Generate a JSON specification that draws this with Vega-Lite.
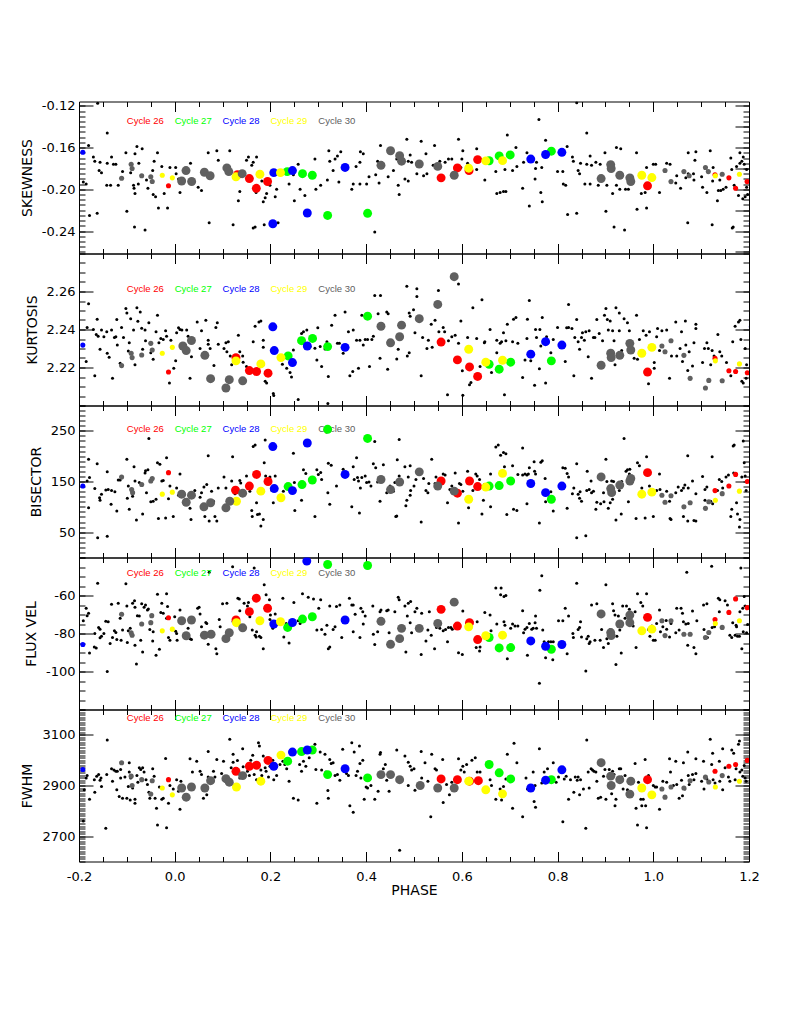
{
"$schema":"https://vega.github.io/schema/vega-lite/v6.json",
"background":"white",
"padding":{"left":19,"top":98.5,"right":5,"bottom":5},
"spacing":0,
"bounds":"flush",
"config":{"view":{"stroke":"black","strokeWidth":1},"axis":{"domain":false,"grid":false,"tickColor":"black","tickWidth":1,"labelFont":"DejaVu Sans","labelFontSize":13,"labelColor":"black","titleFont":"DejaVu Sans","titleFontSize":14,"titleFontWeight":"normal","titleColor":"black","labelFlush":false}},
"datasets":{
"legend":[
{"label":"Cycle 26","cycle":26,"phase":-0.1,"skew":-0.1343,"kurt":2.2614,"bis":254.6,"flux":-48.1,"fwhm":3165},
{"label":"Cycle 27","cycle":27,"phase":0.0,"skew":-0.1343,"kurt":2.2614,"bis":254.6,"flux":-48.1,"fwhm":3165},
{"label":"Cycle 28","cycle":28,"phase":0.1,"skew":-0.1343,"kurt":2.2614,"bis":254.6,"flux":-48.1,"fwhm":3165},
{"label":"Cycle 29","cycle":29,"phase":0.2,"skew":-0.1343,"kurt":2.2614,"bis":254.6,"flux":-48.1,"fwhm":3165},
{"label":"Cycle 30","cycle":30,"phase":0.3,"skew":-0.1343,"kurt":2.2614,"bis":254.6,"flux":-48.1,"fwhm":3165}
],
"skew_bg":[
{"phase":-0.161,"value":-0.1175},{"phase":-0.141,"value":-0.146},{"phase":-0.18,"value":-0.158},{"phase":-0.17,"value":-0.169},{"phase":-0.167,"value":-0.173},{"phase":-0.156,"value":-0.174},{"phase":-0.158,"value":-0.182},{"phase":-0.153,"value":-0.184},{"phase":-0.191,"value":-0.193},{"phase":-0.185,"value":-0.195},{"phase":-0.178,"value":-0.225},{"phase":-0.162,"value":-0.223},{"phase":-0.141,"value":-0.175},{"phase":-0.132,"value":-0.169},{"phase":-0.128,"value":-0.176},{"phase":-0.123,"value":-0.176},{"phase":-0.142,"value":-0.196},{"phase":-0.134,"value":-0.196},{"phase":-0.118,"value":-0.196},{"phase":-0.109,"value":-0.183},{"phase":-0.102,"value":-0.165},{"phase":-0.1,"value":-0.221},{"phase":-0.092,"value":-0.184},{"phase":-0.086,"value":-0.196},{"phase":-0.085,"value":-0.199},{"phase":-0.083,"value":-0.166},{"phase":-0.079,"value":-0.159},{"phase":-0.075,"value":-0.175},{"phase":-0.068,"value":-0.161},{"phase":-0.083,"value":-0.204},{"phase":-0.084,"value":-0.236},{"phase":-0.062,"value":-0.239},{"phase":-0.076,"value":-0.195},{"phase":-0.059,"value":-0.191},{"phase":-0.056,"value":-0.199},{"phase":-0.046,"value":-0.182},{"phase":-0.043,"value":-0.173},{"phase":-0.036,"value":-0.165},{"phase":-0.034,"value":-0.218},{"phase":-0.045,"value":-0.205},{"phase":-0.04,"value":-0.207},{"phase":-0.027,"value":-0.178},{"phase":-0.022,"value":-0.204},{"phase":-0.015,"value":-0.218},{"phase":-0.01,"value":-0.179},{"phase":0.002,"value":-0.179},{"phase":0.003,"value":-0.185},{"phase":0.008,"value":-0.19},{"phase":0.011,"value":-0.203},{"phase":0.033,"value":-0.175},{"phase":0.049,"value":-0.198},{"phase":0.056,"value":-0.201},{"phase":0.07,"value":-0.165},{"phase":0.072,"value":-0.232},{"phase":0.088,"value":-0.163},{"phase":0.091,"value":-0.172},{"phase":0.115,"value":-0.163},{"phase":0.122,"value":-0.234},{"phase":0.133,"value":-0.211},{"phase":0.136,"value":-0.202},{"phase":0.15,"value":-0.172},{"phase":0.154,"value":-0.169},{"phase":0.161,"value":-0.177},{"phase":0.164,"value":-0.174},{"phase":0.17,"value":-0.203},{"phase":0.171,"value":-0.169},{"phase":0.168,"value":-0.236},{"phase":0.164,"value":-0.237},{"phase":0.182,"value":-0.192},{"phase":0.185,"value":-0.212},{"phase":0.189,"value":-0.208},{"phase":0.192,"value":-0.204},{"phase":0.199,"value":-0.196},{"phase":0.21,"value":-0.207},{"phase":0.213,"value":-0.2},{"phase":0.216,"value":-0.232},{"phase":0.187,"value":-0.234},{"phase":0.248,"value":-0.186},{"phase":0.239,"value":-0.195},{"phase":0.25,"value":-0.211},{"phase":0.258,"value":-0.176},{"phase":0.262,"value":-0.2},{"phase":0.272,"value":-0.206},{"phase":0.293,"value":-0.171},{"phase":0.295,"value":-0.2},{"phase":0.305,"value":-0.196},{"phase":0.322,"value":-0.163},{"phase":0.324,"value":-0.173},{"phase":0.319,"value":-0.191},{"phase":0.331,"value":-0.182},{"phase":0.335,"value":-0.171},{"phase":0.34,"value":-0.168},{"phase":0.343,"value":-0.193},{"phase":0.347,"value":-0.164},{"phase":0.373,"value":-0.195},{"phase":0.37,"value":-0.2},{"phase":0.379,"value":-0.178},{"phase":0.387,"value":-0.195},{"phase":0.387,"value":-0.174},{"phase":0.388,"value":-0.164},{"phase":0.394,"value":-0.166},{"phase":0.401,"value":-0.195},{"phase":0.406,"value":-0.188},{"phase":0.418,"value":-0.241},{"phase":0.42,"value":-0.186},{"phase":0.424,"value":-0.173},{"phase":0.427,"value":-0.194},{"phase":0.43,"value":-0.158},{"phase":0.436,"value":-0.176},{"phase":0.446,"value":-0.188},{"phase":0.457,"value":-0.182},
{"phase":0.84,"value":-0.117},{"phase":0.761,"value":-0.133},{"phase":0.861,"value":-0.146},{"phase":0.695,"value":-0.148},{"phase":0.775,"value":-0.153},{"phase":0.485,"value":-0.152},{"phase":0.515,"value":-0.154},{"phase":0.543,"value":-0.158},{"phase":0.593,"value":-0.152},{"phase":0.602,"value":-0.163},{"phase":0.631,"value":-0.161},{"phase":0.713,"value":-0.16},{"phase":0.82,"value":-0.159},{"phase":0.923,"value":-0.16},{"phase":0.932,"value":-0.161},{"phase":0.965,"value":-0.165},{"phase":1.073,"value":-0.165},{"phase":1.089,"value":-0.164},{"phase":1.119,"value":-0.163},{"phase":1.181,"value":-0.165},{"phase":1.188,"value":-0.169},{"phase":0.525,"value":-0.166},{"phase":0.492,"value":-0.167},{"phase":0.464,"value":-0.171},{"phase":0.488,"value":-0.173},{"phase":0.495,"value":-0.174},{"phase":0.554,"value":-0.173},{"phase":0.565,"value":-0.174},{"phase":0.572,"value":-0.171},{"phase":0.579,"value":-0.171},{"phase":0.54,"value":-0.177},{"phase":0.527,"value":-0.185},{"phase":0.52,"value":-0.187},{"phase":0.506,"value":-0.185},{"phase":0.481,"value":-0.19},{"phase":0.488,"value":-0.192},{"phase":0.467,"value":-0.196},{"phase":0.469,"value":-0.205},{"phase":0.6,"value":-0.171},{"phase":0.598,"value":-0.179},{"phase":0.612,"value":-0.175},{"phase":0.631,"value":-0.181},{"phase":0.648,"value":-0.191},{"phase":0.671,"value":-0.183},{"phase":0.673,"value":-0.204},{"phase":0.68,"value":-0.203},{"phase":0.687,"value":-0.202},{"phase":0.692,"value":-0.202},{"phase":0.69,"value":-0.181},{"phase":0.706,"value":-0.182},{"phase":0.715,"value":-0.178},{"phase":0.729,"value":-0.174},{"phase":0.736,"value":-0.165},{"phase":0.741,"value":-0.216},{"phase":0.756,"value":-0.174},{"phase":0.754,"value":-0.18},{"phase":0.767,"value":-0.179},{"phase":0.753,"value":-0.19},{"phase":0.765,"value":-0.203},{"phase":0.768,"value":-0.212},{"phase":0.727,"value":-0.199},{"phase":0.8,"value":-0.183},{"phase":0.811,"value":-0.183},{"phase":0.812,"value":-0.195},{"phase":0.817,"value":-0.196},{"phase":0.821,"value":-0.224},{"phase":0.84,"value":-0.223},{"phase":0.831,"value":-0.169},{"phase":0.833,"value":-0.173},{"phase":0.843,"value":-0.182},{"phase":0.846,"value":-0.185},{"phase":0.848,"value":-0.175},{"phase":0.861,"value":-0.176},{"phase":0.868,"value":-0.168},{"phase":0.871,"value":-0.177},{"phase":0.88,"value":-0.174},{"phase":0.889,"value":-0.176},{"phase":0.857,"value":-0.195},{"phase":0.868,"value":-0.195},{"phase":0.885,"value":-0.196},{"phase":0.901,"value":-0.221},{"phase":0.899,"value":-0.165},{"phase":0.903,"value":-0.196},{"phase":0.915,"value":-0.204},{"phase":0.918,"value":-0.236},{"phase":0.923,"value":-0.196},{"phase":0.93,"value":-0.2},{"phase":0.94,"value":-0.239},{"phase":0.942,"value":-0.2},{"phase":0.948,"value":-0.2},{"phase":0.966,"value":-0.219},{"phase":0.975,"value":-0.204},{"phase":0.983,"value":-0.203},{"phase":0.986,"value":-0.218},{"phase":0.986,"value":-0.179},{"phase":1.0,"value":-0.176},{"phase":1.005,"value":-0.176},{"phase":1.013,"value":-0.203},{"phase":1.028,"value":-0.175},{"phase":1.035,"value":-0.176},{"phase":1.047,"value":-0.194},{"phase":1.049,"value":-0.187},{"phase":1.057,"value":-0.199},{"phase":1.063,"value":-0.183},{"phase":1.068,"value":-0.189},{"phase":1.072,"value":-0.232},{"phase":1.073,"value":-0.185},{"phase":1.084,"value":-0.185},{"phase":1.085,"value":-0.191},{"phase":1.087,"value":-0.172},{"phase":1.101,"value":-0.188},{"phase":1.103,"value":-0.198},{"phase":1.112,"value":-0.203},{"phase":1.123,"value":-0.234},{"phase":1.124,"value":-0.192},{"phase":1.125,"value":-0.179},{"phase":1.134,"value":-0.211},{"phase":1.136,"value":-0.201},{"phase":1.139,"value":-0.191},{"phase":1.141,"value":-0.201},{"phase":1.146,"value":-0.2},{"phase":1.152,"value":-0.198},{"phase":1.162,"value":-0.17},{"phase":1.164,"value":-0.181},{"phase":1.167,"value":-0.236},{"phase":1.165,"value":-0.237},{"phase":1.169,"value":-0.196},{"phase":1.174,"value":-0.178},{"phase":1.178,"value":-0.206},{"phase":1.181,"value":-0.175},{"phase":1.185,"value":-0.173},{"phase":1.187,"value":-0.209},{"phase":1.192,"value":-0.207},{"phase":1.195,"value":-0.181},{"phase":1.195,"value":-0.198},{"phase":1.19,"value":-0.176},{"phase":1.197,"value":-0.205}
],
"skew_cyc":[
{"phase":0.131,"value":-0.186,"cycle":26,"copy":"main"},{"phase":0.156,"value":-0.1897,"cycle":26,"copy":"main"},{"phase":0.1705,"value":-0.199,"cycle":26,"copy":"main"},{"phase":0.194,"value":-0.1925,"cycle":26,"copy":"main"},{"phase":0.5566,"value":-0.189,"cycle":26,"copy":"main"},{"phase":0.5907,"value":-0.1795,"cycle":26,"copy":"main"},{"phase":0.615,"value":-0.182,"cycle":26,"copy":"main"},{"phase":0.633,"value":-0.1715,"cycle":26,"copy":"main"},{"phase":0.988,"value":-0.1966,"cycle":26,"copy":"main"},
{"phase":-0.013,"value":-0.1966,"cycle":26,"copy":"wrap"},{"phase":1.129,"value":-0.186,"cycle":26,"copy":"wrap"},{"phase":1.158,"value":-0.189,"cycle":26,"copy":"wrap"},{"phase":1.172,"value":-0.199,"cycle":26,"copy":"wrap"},{"phase":1.196,"value":-0.1926,"cycle":26,"copy":"wrap"},
{"phase":0.235,"value":-0.183,"cycle":27,"copy":"main"},{"phase":0.267,"value":-0.185,"cycle":27,"copy":"main"},{"phase":0.2875,"value":-0.1865,"cycle":27,"copy":"main"},{"phase":0.3195,"value":-0.225,"cycle":27,"copy":"main"},{"phase":0.403,"value":-0.223,"cycle":27,"copy":"main"},{"phase":0.657,"value":-0.1726,"cycle":27,"copy":"main"},{"phase":0.678,"value":-0.168,"cycle":27,"copy":"main"},{"phase":0.701,"value":-0.167,"cycle":27,"copy":"main"},{"phase":0.787,"value":-0.1634,"cycle":27,"copy":"main"},
{"phase":0.205,"value":-0.233,"cycle":28,"copy":"main"},{"phase":0.207,"value":-0.184,"cycle":28,"copy":"main"},{"phase":0.246,"value":-0.182,"cycle":28,"copy":"main"},{"phase":0.277,"value":-0.2227,"cycle":28,"copy":"main"},{"phase":0.356,"value":-0.179,"cycle":28,"copy":"main"},{"phase":0.744,"value":-0.171,"cycle":28,"copy":"main"},{"phase":0.775,"value":-0.1666,"cycle":28,"copy":"main"},{"phase":0.809,"value":-0.1645,"cycle":28,"copy":"main"},
{"phase":-0.192,"value":-0.1645,"cycle":28,"copy":"wrap"},{"phase":1.205,"value":-0.233,"cycle":28,"copy":"wrap"},
{"phase":0.128,"value":-0.188,"cycle":29,"copy":"main"},{"phase":0.178,"value":-0.1855,"cycle":29,"copy":"main"},{"phase":0.221,"value":-0.184,"cycle":29,"copy":"main"},{"phase":0.6143,"value":-0.1797,"cycle":29,"copy":"main"},{"phase":0.65,"value":-0.1727,"cycle":29,"copy":"main"},{"phase":0.685,"value":-0.1725,"cycle":29,"copy":"main"},{"phase":0.976,"value":-0.1865,"cycle":29,"copy":"main"},{"phase":0.997,"value":-0.1887,"cycle":29,"copy":"main"},
{"phase":-0.026,"value":-0.1865,"cycle":29,"copy":"wrap"},{"phase":-0.005,"value":-0.189,"cycle":29,"copy":"wrap"},{"phase":1.1297,"value":-0.187,"cycle":29,"copy":"wrap"},{"phase":1.18,"value":-0.1856,"cycle":29,"copy":"wrap"},
{"phase":0.0145,"value":-0.192,"cycle":30,"copy":"main"},{"phase":0.0236,"value":-0.182,"cycle":30,"copy":"main"},{"phase":0.0354,"value":-0.1925,"cycle":30,"copy":"main"},{"phase":0.062,"value":-0.1836,"cycle":30,"copy":"main"},{"phase":0.074,"value":-0.187,"cycle":30,"copy":"main"},{"phase":0.109,"value":-0.1795,"cycle":30,"copy":"main"},{"phase":0.113,"value":-0.183,"cycle":30,"copy":"main"},{"phase":0.141,"value":-0.185,"cycle":30,"copy":"main"},{"phase":0.431,"value":-0.177,"cycle":30,"copy":"main"},{"phase":0.451,"value":-0.163,"cycle":30,"copy":"main"},{"phase":0.47,"value":-0.1677,"cycle":30,"copy":"main"},{"phase":0.474,"value":-0.173,"cycle":30,"copy":"main"},{"phase":0.511,"value":-0.1757,"cycle":30,"copy":"main"},{"phase":0.5496,"value":-0.178,"cycle":30,"copy":"main"},{"phase":0.584,"value":-0.1865,"cycle":30,"copy":"main"},{"phase":0.891,"value":-0.1897,"cycle":30,"copy":"main"},{"phase":0.911,"value":-0.1763,"cycle":30,"copy":"main"},{"phase":0.912,"value":-0.18,"cycle":30,"copy":"main"},{"phase":0.93,"value":-0.1865,"cycle":30,"copy":"main"},{"phase":0.951,"value":-0.189,"cycle":30,"copy":"main"},{"phase":0.953,"value":-0.1925,"cycle":30,"copy":"main"},
{"phase":-0.111,"value":-0.1893,"cycle":30,"copy":"wrap"},{"phase":-0.091,"value":-0.176,"cycle":30,"copy":"wrap"},{"phase":-0.089,"value":-0.18,"cycle":30,"copy":"wrap"},{"phase":-0.069,"value":-0.187,"cycle":30,"copy":"wrap"},{"phase":-0.05,"value":-0.188,"cycle":30,"copy":"wrap"},{"phase":-0.047,"value":-0.1925,"cycle":30,"copy":"wrap"},{"phase":1.0245,"value":-0.182,"cycle":30,"copy":"wrap"},{"phase":1.037,"value":-0.1926,"cycle":30,"copy":"wrap"},{"phase":1.064,"value":-0.183,"cycle":30,"copy":"wrap"},{"phase":1.075,"value":-0.187,"cycle":30,"copy":"wrap"},{"phase":1.109,"value":-0.179,"cycle":30,"copy":"wrap"},{"phase":1.115,"value":-0.183,"cycle":30,"copy":"wrap"},{"phase":1.144,"value":-0.1855,"cycle":30,"copy":"wrap"}
],
"kurt_bg":[
{"phase":-0.18,"value":2.2536},{"phase":-0.183,"value":2.241},{"phase":-0.185,"value":2.2231},{"phase":-0.167,"value":2.2157},{"phase":-0.162,"value":2.2454},{"phase":-0.17,"value":2.24},{"phase":-0.16,"value":2.2365},{"phase":-0.164,"value":2.2374},{"phase":-0.153,"value":2.2397},{"phase":-0.156,"value":2.2296},{"phase":-0.148,"value":2.2362},{"phase":-0.142,"value":2.2388},{"phase":-0.141,"value":2.2275},{"phase":-0.137,"value":2.2254},{"phase":-0.132,"value":2.2397},{"phase":-0.13,"value":2.2144},{"phase":-0.126,"value":2.2358},{"phase":-0.123,"value":2.2362},{"phase":-0.121,"value":2.2452},{"phase":-0.12,"value":2.2318},{"phase":-0.114,"value":2.2223},{"phase":-0.111,"value":2.241},{"phase":-0.107,"value":2.2358},{"phase":-0.102,"value":2.251},{"phase":-0.1,"value":2.2487},{"phase":-0.097,"value":2.2287},{"phase":-0.095,"value":2.233},{"phase":-0.092,"value":2.2457},{"phase":-0.086,"value":2.2397},{"phase":-0.083,"value":2.2214},{"phase":-0.079,"value":2.2515},{"phase":-0.077,"value":2.2443},{"phase":-0.072,"value":2.2492},{"phase":-0.069,"value":2.2407},{"phase":-0.067,"value":2.2296},{"phase":-0.062,"value":2.2397},{"phase":-0.061,"value":2.2341},{"phase":-0.054,"value":2.2435},{"phase":-0.05,"value":2.2278},{"phase":-0.045,"value":2.2243},{"phase":-0.039,"value":2.2388},{"phase":-0.036,"value":2.2475},{"phase":-0.033,"value":2.233},{"phase":-0.029,"value":2.2353},{"phase":-0.024,"value":2.2348},{"phase":-0.019,"value":2.2393},{"phase":-0.017,"value":2.2365},{"phase":-0.011,"value":2.2118},{"phase":-0.008,"value":2.2344},{"phase":-0.002,"value":2.2196},{"phase":0.002,"value":2.2236},{"phase":0.004,"value":2.2383},{"phase":0.008,"value":2.2409},{"phase":0.011,"value":2.24},{"phase":0.015,"value":2.2397},{"phase":0.025,"value":2.2397},{"phase":0.028,"value":2.2365},{"phase":0.032,"value":2.2144},{"phase":0.035,"value":2.2257},{"phase":0.047,"value":2.244},{"phase":0.056,"value":2.2393},{"phase":0.053,"value":2.23},{"phase":0.065,"value":2.2449},{"phase":0.07,"value":2.2344},{"phase":0.07,"value":2.2323},{"phase":0.074,"value":2.23},{"phase":0.082,"value":2.221},{"phase":0.086,"value":2.241},{"phase":0.089,"value":2.2435},{"phase":0.091,"value":2.2323},{"phase":0.103,"value":2.23},{"phase":0.107,"value":2.233},{"phase":0.112,"value":2.2336},{"phase":0.109,"value":2.2283},{"phase":0.116,"value":2.2261},{"phase":0.119,"value":2.2214},{"phase":0.133,"value":2.237},{"phase":0.136,"value":2.2283},{"phase":0.142,"value":2.2261},{"phase":0.143,"value":2.2228},{"phase":0.15,"value":2.2205},{"phase":0.164,"value":2.2336},{"phase":0.168,"value":2.2417},{"phase":0.176,"value":2.244},{"phase":0.18,"value":2.2445},{"phase":0.185,"value":2.2306},{"phase":0.185,"value":2.2344},{"phase":0.189,"value":2.2127},{"phase":0.192,"value":2.2118},{"phase":0.206,"value":2.2063},{"phase":0.207,"value":2.2052},{"phase":0.22,"value":2.2254},{"phase":0.225,"value":2.2217},{"phase":0.234,"value":2.2196},{"phase":0.241,"value":2.2174},{"phase":0.244,"value":2.215},{"phase":0.248,"value":2.2292},{"phase":0.258,"value":2.2031},{"phase":0.265,"value":2.2379},{"phase":0.269,"value":2.2388},{"phase":0.276,"value":2.2397},{"phase":0.283,"value":2.231},{"phase":0.293,"value":2.2301},{"phase":0.297,"value":2.224},{"phase":0.299,"value":2.2409},{"phase":0.304,"value":2.231},{"phase":0.307,"value":2.2205},{"phase":0.314,"value":2.2298},{"phase":0.318,"value":2.2336},{"phase":0.321,"value":2.2153},{"phase":0.32,"value":2.201},{"phase":0.328,"value":2.2423},{"phase":0.335,"value":2.2475},{"phase":0.34,"value":2.2327},{"phase":0.344,"value":2.2327},{"phase":0.352,"value":2.2275},{"phase":0.356,"value":2.2492},{"phase":0.363,"value":2.2388},{"phase":0.366,"value":2.2157},{"phase":0.372,"value":2.2179},{"phase":0.373,"value":2.2397},{"phase":0.38,"value":2.2344},{"phase":0.384,"value":2.2196},{"phase":0.387,"value":2.2344},{"phase":0.391,"value":2.2475},{"phase":0.394,"value":2.2318},{"phase":0.398,"value":2.2348},{"phase":0.403,"value":2.2348},{"phase":0.407,"value":2.2205},{"phase":0.412,"value":2.2348},{"phase":0.415,"value":2.2365},{"phase":0.418,"value":2.2579},{"phase":0.425,"value":2.2483},{"phase":0.43,"value":2.2579},{"phase":0.429,"value":2.2249},{"phase":0.443,"value":2.2492},{"phase":0.445,"value":2.2191},{"phase":0.446,"value":2.2483},{"phase":0.448,"value":2.2344},
{"phase":0.485,"value":2.2628},{"phase":0.506,"value":2.2614},{"phase":0.506,"value":2.2574},{"phase":0.49,"value":2.2487},{"phase":0.499,"value":2.2504},{"phase":0.492,"value":2.247},{"phase":0.502,"value":2.2383},{"phase":0.464,"value":2.2245},{"phase":0.467,"value":2.2296},{"phase":0.486,"value":2.2261},{"phase":0.49,"value":2.2278},{"phase":0.515,"value":2.2157},{"phase":0.518,"value":2.2358},{"phase":0.527,"value":2.23},{"phase":0.53,"value":2.2344},{"phase":0.536,"value":2.2428},{"phase":0.538,"value":2.2306},{"phase":0.544,"value":2.2449},{"phase":0.551,"value":2.2605},{"phase":0.552,"value":2.2388},{"phase":0.561,"value":2.241},{"phase":0.564,"value":2.2388},{"phase":0.57,"value":2.2057},{"phase":0.572,"value":2.2341},{"phase":0.579,"value":2.2362},{"phase":0.586,"value":2.237},{"phase":0.593,"value":2.264},{"phase":0.598,"value":2.2445},{"phase":0.593,"value":2.2327},{"phase":0.601,"value":2.2183},{"phase":0.602,"value":2.2054},{"phase":0.612,"value":2.2358},{"phase":0.616,"value":2.2109},{"phase":0.619,"value":2.2121},{"phase":0.623,"value":2.2515},{"phase":0.631,"value":2.2353},{"phase":0.638,"value":2.2205},{"phase":0.642,"value":2.2557},{"phase":0.647,"value":2.233},{"phase":0.648,"value":2.2336},{"phase":0.659,"value":2.24},{"phase":0.662,"value":2.2174},{"phase":0.673,"value":2.2344},{"phase":0.673,"value":2.2278},{"phase":0.68,"value":2.2327},{"phase":0.683,"value":2.2336},{"phase":0.687,"value":2.2383},{"phase":0.689,"value":2.2057},{"phase":0.692,"value":2.2341},{"phase":0.695,"value":2.2428},{"phase":0.706,"value":2.2336},{"phase":0.708,"value":2.2454},{"phase":0.713,"value":2.2463},{"phase":0.717,"value":2.2327},{"phase":0.727,"value":2.2148},{"phase":0.732,"value":2.224},{"phase":0.736,"value":2.2353},{"phase":0.737,"value":2.2454},{"phase":0.741,"value":2.2553},{"phase":0.744,"value":2.2236},{"phase":0.752,"value":2.2106},{"phase":0.754,"value":2.24},{"phase":0.756,"value":2.2358},{"phase":0.763,"value":2.24},{"phase":0.762,"value":2.2193},{"phase":0.765,"value":2.2313},{"phase":0.768,"value":2.2463},{"phase":0.775,"value":2.2118},{"phase":0.777,"value":2.2362},{"phase":0.786,"value":2.2278},{"phase":0.791,"value":2.2348},{"phase":0.8,"value":2.241},{"phase":0.816,"value":2.2231},{"phase":0.819,"value":2.2409},{"phase":0.823,"value":2.2532},{"phase":0.823,"value":2.241},{"phase":0.83,"value":2.2405},{"phase":0.834,"value":2.2157},{"phase":0.836,"value":2.2358},{"phase":0.84,"value":2.2452},{"phase":0.843,"value":2.2336},{"phase":0.846,"value":2.2296},{"phase":0.85,"value":2.2358},{"phase":0.852,"value":2.2383},{"phase":0.856,"value":2.2344},{"phase":0.859,"value":2.2388},{"phase":0.864,"value":2.2257},{"phase":0.866,"value":2.2393},{"phase":0.871,"value":2.2144},{"phase":0.875,"value":2.2358},{"phase":0.878,"value":2.2358},{"phase":0.882,"value":2.2452},{"phase":0.887,"value":2.2379},{"phase":0.894,"value":2.2341},{"phase":0.898,"value":2.2475},{"phase":0.901,"value":2.251},{"phase":0.904,"value":2.2452},{"phase":0.906,"value":2.2397},{"phase":0.91,"value":2.2445},{"phase":0.915,"value":2.2393},{"phase":0.918,"value":2.2341},{"phase":0.92,"value":2.2214},{"phase":0.922,"value":2.2515},{"phase":0.929,"value":2.2487},{"phase":0.929,"value":2.2393},{"phase":0.934,"value":2.2289},{"phase":0.939,"value":2.2457},{"phase":0.946,"value":2.2435},{"phase":0.95,"value":2.2393},{"phase":0.96,"value":2.2249},{"phase":0.965,"value":2.2475},{"phase":0.967,"value":2.2243},{"phase":0.971,"value":2.2348},{"phase":0.979,"value":2.2393},{"phase":0.985,"value":2.237},{"phase":0.99,"value":2.2115},{"phase":0.992,"value":2.2388},{"phase":1.002,"value":2.2226},{"phase":1.002,"value":2.2196},{"phase":1.007,"value":2.2362},{"phase":1.009,"value":2.2405},{"phase":1.013,"value":2.2289},{"phase":1.018,"value":2.2393},{"phase":1.028,"value":2.2397},{"phase":1.034,"value":2.2144},{"phase":1.038,"value":2.2261},{"phase":1.047,"value":2.244},{"phase":1.049,"value":2.2261},{"phase":1.056,"value":2.23},{"phase":1.059,"value":2.2388},{"phase":1.061,"value":2.2231},{"phase":1.067,"value":2.2445},{"phase":1.068,"value":2.2318},{"phase":1.072,"value":2.2184},{"phase":1.075,"value":2.2283},{"phase":1.082,"value":2.2208},{"phase":1.085,"value":2.233},{"phase":1.089,"value":2.2405},{"phase":1.089,"value":2.2428},{"phase":1.103,"value":2.2226},{"phase":1.107,"value":2.23},{"phase":1.112,"value":2.233},{"phase":1.115,"value":2.23},{"phase":1.12,"value":2.2214},{"phase":1.123,"value":2.2289},{"phase":1.127,"value":2.2261},{"phase":1.135,"value":2.2374},{"phase":1.139,"value":2.2283},{"phase":1.143,"value":2.2261},{"phase":1.153,"value":2.2226},{"phase":1.162,"value":2.2157},{"phase":1.166,"value":2.2336},{"phase":1.171,"value":2.2417},{"phase":1.178,"value":2.244},{"phase":1.181,"value":2.2449},{"phase":1.183,"value":2.2348},{"phase":1.185,"value":2.2127},{"phase":1.188,"value":2.2118},{"phase":1.192,"value":2.23},{"phase":1.194,"value":2.2144},{"phase":1.195,"value":2.2214}
],
"kurt_cyc":[
{"phase":0.128,"value":2.2252,"cycle":26,"copy":"main"},{"phase":0.156,"value":2.2184,"cycle":26,"copy":"main"},{"phase":0.171,"value":2.2179,"cycle":26,"copy":"main"},{"phase":0.195,"value":2.217,"cycle":26,"copy":"main"},{"phase":0.5566,"value":2.2334,"cycle":26,"copy":"main"},{"phase":0.5907,"value":2.224,"cycle":26,"copy":"main"},{"phase":0.616,"value":2.2203,"cycle":26,"copy":"main"},{"phase":0.633,"value":2.2153,"cycle":26,"copy":"main"},{"phase":0.988,"value":2.2176,"cycle":26,"copy":"main"},
{"phase":-0.013,"value":2.2176,"cycle":26,"copy":"wrap"},{"phase":1.129,"value":2.2248,"cycle":26,"copy":"wrap"},{"phase":1.158,"value":2.2183,"cycle":26,"copy":"wrap"},{"phase":1.172,"value":2.2179,"cycle":26,"copy":"wrap"},{"phase":1.1965,"value":2.2172,"cycle":26,"copy":"wrap"},
{"phase":0.237,"value":2.2261,"cycle":27,"copy":"main"},{"phase":0.265,"value":2.2341,"cycle":27,"copy":"main"},{"phase":0.288,"value":2.2353,"cycle":27,"copy":"main"},{"phase":0.3195,"value":2.231,"cycle":27,"copy":"main"},{"phase":0.403,"value":2.247,"cycle":27,"copy":"main"},{"phase":0.657,"value":2.2217,"cycle":27,"copy":"main"},{"phase":0.678,"value":2.2191,"cycle":27,"copy":"main"},{"phase":0.702,"value":2.2228,"cycle":27,"copy":"main"},{"phase":0.787,"value":2.2235,"cycle":27,"copy":"main"},
{"phase":0.205,"value":2.2414,"cycle":28,"copy":"main"},{"phase":0.208,"value":2.2289,"cycle":28,"copy":"main"},{"phase":0.246,"value":2.2226,"cycle":28,"copy":"main"},{"phase":0.277,"value":2.2313,"cycle":28,"copy":"main"},{"phase":0.356,"value":2.2306,"cycle":28,"copy":"main"},{"phase":0.744,"value":2.227,"cycle":28,"copy":"main"},{"phase":0.775,"value":2.2336,"cycle":28,"copy":"main"},{"phase":0.809,"value":2.2318,"cycle":28,"copy":"main"},
{"phase":-0.192,"value":2.2318,"cycle":28,"copy":"wrap"},{"phase":1.205,"value":2.2414,"cycle":28,"copy":"wrap"},
{"phase":0.128,"value":2.2235,"cycle":29,"copy":"main"},{"phase":0.18,"value":2.2219,"cycle":29,"copy":"main"},{"phase":0.222,"value":2.2252,"cycle":29,"copy":"main"},{"phase":0.6143,"value":2.2296,"cycle":29,"copy":"main"},{"phase":0.65,"value":2.2228,"cycle":29,"copy":"main"},{"phase":0.685,"value":2.2238,"cycle":29,"copy":"main"},{"phase":0.976,"value":2.2275,"cycle":29,"copy":"main"},{"phase":0.997,"value":2.2306,"cycle":29,"copy":"main"},
{"phase":-0.026,"value":2.2275,"cycle":29,"copy":"wrap"},{"phase":-0.005,"value":2.2306,"cycle":29,"copy":"wrap"},{"phase":1.1297,"value":2.2235,"cycle":29,"copy":"wrap"},{"phase":1.18,"value":2.2219,"cycle":29,"copy":"wrap"},
{"phase":0.017,"value":2.2313,"cycle":30,"copy":"main"},{"phase":0.024,"value":2.2289,"cycle":30,"copy":"main"},{"phase":0.035,"value":2.2342,"cycle":30,"copy":"main"},{"phase":0.063,"value":2.2264,"cycle":30,"copy":"main"},{"phase":0.075,"value":2.2141,"cycle":30,"copy":"main"},{"phase":0.107,"value":2.2092,"cycle":30,"copy":"main"},{"phase":0.114,"value":2.2136,"cycle":30,"copy":"main"},{"phase":0.142,"value":2.213,"cycle":30,"copy":"main"},{"phase":0.431,"value":2.2417,"cycle":30,"copy":"main"},{"phase":0.451,"value":2.233,"cycle":30,"copy":"main"},{"phase":0.47,"value":2.2362,"cycle":30,"copy":"main"},{"phase":0.474,"value":2.2423,"cycle":30,"copy":"main"},{"phase":0.511,"value":2.2457,"cycle":30,"copy":"main"},{"phase":0.5496,"value":2.2532,"cycle":30,"copy":"main"},{"phase":0.584,"value":2.2678,"cycle":30,"copy":"main"},{"phase":0.891,"value":2.2212,"cycle":30,"copy":"main"},{"phase":0.911,"value":2.2275,"cycle":30,"copy":"main"},{"phase":0.912,"value":2.2252,"cycle":30,"copy":"main"},{"phase":0.93,"value":2.2264,"cycle":30,"copy":"main"},{"phase":0.951,"value":2.2327,"cycle":30,"copy":"main"},{"phase":0.953,"value":2.2292,"cycle":30,"copy":"main"},
{"phase":-0.111,"value":2.221,"cycle":30,"copy":"wrap"},{"phase":-0.091,"value":2.2275,"cycle":30,"copy":"wrap"},{"phase":-0.089,"value":2.2252,"cycle":30,"copy":"wrap"},{"phase":-0.069,"value":2.2266,"cycle":30,"copy":"wrap"},{"phase":-0.05,"value":2.2327,"cycle":30,"copy":"wrap"},{"phase":-0.047,"value":2.2292,"cycle":30,"copy":"wrap"},{"phase":1.018,"value":2.2313,"cycle":30,"copy":"wrap"},{"phase":1.0245,"value":2.2283,"cycle":30,"copy":"wrap"},{"phase":1.037,"value":2.2341,"cycle":30,"copy":"wrap"},{"phase":1.064,"value":2.2264,"cycle":30,"copy":"wrap"},{"phase":1.077,"value":2.2143,"cycle":30,"copy":"wrap"},{"phase":1.109,"value":2.2092,"cycle":30,"copy":"wrap"},{"phase":1.116,"value":2.2132,"cycle":30,"copy":"wrap"},{"phase":1.144,"value":2.213,"cycle":30,"copy":"wrap"}
],
"bis_bg":[
{"phase":-0.162,"value":185},{"phase":-0.141,"value":169},{"phase":-0.18,"value":194},{"phase":-0.178,"value":158},{"phase":-0.183,"value":151},{"phase":-0.167,"value":136},{"phase":-0.18,"value":98},{"phase":-0.161,"value":39},{"phase":-0.141,"value":42},{"phase":-0.157,"value":118},{"phase":-0.156,"value":113},{"phase":-0.153,"value":125},{"phase":-0.144,"value":133},{"phase":-0.139,"value":134},{"phase":-0.132,"value":132},{"phase":-0.133,"value":105},{"phase":-0.125,"value":130},{"phase":-0.121,"value":92},{"phase":-0.118,"value":153},{"phase":-0.114,"value":153},{"phase":-0.1,"value":194},{"phase":-0.099,"value":117},{"phase":-0.097,"value":141},{"phase":-0.095,"value":95},{"phase":-0.088,"value":121},{"phase":-0.085,"value":179},{"phase":-0.083,"value":151},{"phase":-0.08,"value":74},{"phase":-0.074,"value":148},{"phase":-0.067,"value":86},{"phase":-0.062,"value":167},{"phase":-0.061,"value":171},{"phase":-0.059,"value":128},{"phase":-0.056,"value":173},{"phase":-0.054,"value":235},{"phase":-0.05,"value":110},{"phase":-0.045,"value":111},{"phase":-0.039,"value":115},{"phase":-0.036,"value":187},{"phase":-0.034,"value":77},{"phase":-0.031,"value":184},{"phase":-0.027,"value":151},{"phase":-0.024,"value":152},{"phase":-0.019,"value":78},{"phase":-0.017,"value":197},{"phase":-0.013,"value":116},{"phase":-0.01,"value":141},{"phase":-0.003,"value":81},{"phase":0.004,"value":137},{"phase":0.008,"value":123},{"phase":0.011,"value":165},{"phase":0.019,"value":122},{"phase":0.024,"value":105},{"phase":0.032,"value":97},{"phase":0.034,"value":75},{"phase":0.042,"value":132},{"phase":0.053,"value":119},{"phase":0.056,"value":128},{"phase":0.061,"value":139},{"phase":0.063,"value":81},{"phase":0.067,"value":144},{"phase":0.07,"value":201},{"phase":0.072,"value":72},{"phase":0.077,"value":131},{"phase":0.081,"value":111},{"phase":0.084,"value":81},{"phase":0.088,"value":72},{"phase":0.091,"value":137},{"phase":0.103,"value":159},{"phase":0.107,"value":137},{"phase":0.119,"value":151},{"phase":0.121,"value":199},{"phase":0.126,"value":126},{"phase":0.136,"value":152},{"phase":0.138,"value":147},{"phase":0.15,"value":161},{"phase":0.157,"value":131},{"phase":0.161,"value":93},{"phase":0.162,"value":81},{"phase":0.164,"value":219},{"phase":0.168,"value":222},{"phase":0.171,"value":108},{"phase":0.173,"value":85},{"phase":0.177,"value":86},{"phase":0.18,"value":62},{"phase":0.185,"value":75},{"phase":0.187,"value":187},{"phase":0.189,"value":232},{"phase":0.19,"value":161},{"phase":0.199,"value":159},{"phase":0.203,"value":132},{"phase":0.206,"value":108},{"phase":0.21,"value":161},{"phase":0.227,"value":131},{"phase":0.248,"value":206},{"phase":0.25,"value":148},{"phase":0.251,"value":93},{"phase":0.265,"value":113},{"phase":0.269,"value":173},{"phase":0.274,"value":166},{"phase":0.283,"value":156},{"phase":0.293,"value":81},{"phase":0.297,"value":173},{"phase":0.3,"value":164},{"phase":0.305,"value":168},{"phase":0.307,"value":154},{"phase":0.32,"value":128},{"phase":0.321,"value":186},{"phase":0.324,"value":105},{"phase":0.327,"value":182},{"phase":0.338,"value":141},{"phase":0.352,"value":174},{"phase":0.37,"value":100},{"phase":0.373,"value":179},{"phase":0.375,"value":154},{"phase":0.38,"value":197},{"phase":0.382,"value":158},{"phase":0.384,"value":151},{"phase":0.386,"value":88},{"phase":0.388,"value":137},{"phase":0.391,"value":158},{"phase":0.398,"value":161},{"phase":0.401,"value":148},{"phase":0.406,"value":149},{"phase":0.41,"value":141},{"phase":0.415,"value":185},{"phase":0.418,"value":229},{"phase":0.42,"value":177},{"phase":0.424,"value":149},{"phase":0.429,"value":111},{"phase":0.436,"value":183},{"phase":0.443,"value":128},{"phase":0.45,"value":141},{"phase":0.457,"value":131},{"phase":0.46,"value":148},{"phase":0.462,"value":81},
{"phase":0.469,"value":233},{"phase":0.465,"value":193},{"phase":0.469,"value":161},{"phase":0.464,"value":82},{"phase":0.481,"value":179},{"phase":0.492,"value":181},{"phase":0.488,"value":159},{"phase":0.485,"value":113},{"phase":0.483,"value":102},{"phase":0.493,"value":132},{"phase":0.492,"value":123},{"phase":0.5,"value":141},{"phase":0.504,"value":154},{"phase":0.515,"value":70},{"phase":0.52,"value":156},{"phase":0.525,"value":132},{"phase":0.529,"value":128},{"phase":0.531,"value":146},{"phase":0.537,"value":194},{"phase":0.544,"value":146},{"phase":0.546,"value":159},{"phase":0.561,"value":165},{"phase":0.565,"value":163},{"phase":0.57,"value":108},{"phase":0.575,"value":134},{"phase":0.579,"value":141},{"phase":0.586,"value":167},{"phase":0.593,"value":68},{"phase":0.595,"value":146},{"phase":0.598,"value":144},{"phase":0.602,"value":131},{"phase":0.612,"value":170},{"phase":0.614,"value":98},{"phase":0.623,"value":132},{"phase":0.629,"value":165},{"phase":0.632,"value":161},{"phase":0.637,"value":154},{"phase":0.642,"value":86},{"phase":0.645,"value":113},{"phase":0.647,"value":144},{"phase":0.66,"value":165},{"phase":0.66,"value":100},{"phase":0.671,"value":218},{"phase":0.676,"value":222},{"phase":0.681,"value":202},{"phase":0.687,"value":207},{"phase":0.692,"value":205},{"phase":0.689,"value":179},{"phase":0.694,"value":85},{"phase":0.706,"value":181},{"phase":0.708,"value":95},{"phase":0.715,"value":93},{"phase":0.717,"value":164},{"phase":0.727,"value":216},{"phase":0.727,"value":163},{"phase":0.732,"value":165},{"phase":0.736,"value":163},{"phase":0.739,"value":165},{"phase":0.741,"value":177},{"phase":0.736,"value":106},{"phase":0.751,"value":189},{"phase":0.752,"value":170},{"phase":0.754,"value":165},{"phase":0.762,"value":68},{"phase":0.765,"value":188},{"phase":0.768,"value":191},{"phase":0.774,"value":156},{"phase":0.775,"value":110},{"phase":0.786,"value":130},{"phase":0.791,"value":92},{"phase":0.811,"value":177},{"phase":0.816,"value":176},{"phase":0.82,"value":166},{"phase":0.823,"value":159},{"phase":0.82,"value":97},{"phase":0.831,"value":126},{"phase":0.834,"value":137},{"phase":0.84,"value":185},{"phase":0.84,"value":39},{"phase":0.843,"value":125},{"phase":0.846,"value":117},{"phase":0.847,"value":130},{"phase":0.85,"value":111},{"phase":0.859,"value":43},{"phase":0.861,"value":132},{"phase":0.862,"value":170},{"phase":0.866,"value":134},{"phase":0.87,"value":151},{"phase":0.871,"value":128},{"phase":0.875,"value":131},{"phase":0.88,"value":95},{"phase":0.882,"value":109},{"phase":0.89,"value":106},{"phase":0.896,"value":128},{"phase":0.897,"value":110},{"phase":0.901,"value":194},{"phase":0.903,"value":150},{"phase":0.906,"value":97},{"phase":0.91,"value":108},{"phase":0.913,"value":151},{"phase":0.915,"value":115},{"phase":0.917,"value":150},{"phase":0.922,"value":74},{"phase":0.929,"value":132},{"phase":0.933,"value":86},{"phase":0.934,"value":150},{"phase":0.939,"value":235},{"phase":0.943,"value":170},{"phase":0.946,"value":173},{"phase":0.948,"value":110},{"phase":0.95,"value":165},{"phase":0.951,"value":174},{"phase":0.964,"value":77},{"phase":0.967,"value":187},{"phase":0.971,"value":181},{"phase":0.976,"value":137},{"phase":0.983,"value":78},{"phase":0.986,"value":199},{"phase":0.992,"value":141},{"phase":1.0,"value":81},{"phase":1.007,"value":132},{"phase":1.013,"value":165},{"phase":1.014,"value":134},{"phase":1.028,"value":131},{"phase":1.034,"value":111},{"phase":1.035,"value":77},{"phase":1.037,"value":75},{"phase":1.047,"value":128},{"phase":1.052,"value":139},{"phase":1.059,"value":132},{"phase":1.063,"value":81},{"phase":1.063,"value":137},{"phase":1.066,"value":143},{"phase":1.072,"value":201},{"phase":1.072,"value":72},{"phase":1.073,"value":137},{"phase":1.082,"value":151},{"phase":1.085,"value":73},{"phase":1.089,"value":72},{"phase":1.089,"value":126},{"phase":1.103,"value":160},{"phase":1.108,"value":134},{"phase":1.108,"value":113},{"phase":1.112,"value":139},{"phase":1.12,"value":111},{"phase":1.123,"value":199},{"phase":1.124,"value":106},{"phase":1.134,"value":132},{"phase":1.138,"value":154},{"phase":1.143,"value":150},{"phase":1.145,"value":137},{"phase":1.152,"value":159},{"phase":1.157,"value":163},{"phase":1.162,"value":81},{"phase":1.164,"value":95},{"phase":1.167,"value":220},{"phase":1.169,"value":222},{"phase":1.168,"value":167},{"phase":1.174,"value":108},{"phase":1.176,"value":86},{"phase":1.18,"value":60},{"phase":1.181,"value":75},{"phase":1.185,"value":159},{"phase":1.188,"value":230},{"phase":1.19,"value":187},{"phase":1.192,"value":161},{"phase":1.194,"value":132}
],
"bis_cyc":[
{"phase":0.127,"value":133,"cycle":26,"copy":"main"},{"phase":0.156,"value":141,"cycle":26,"copy":"main"},{"phase":0.171,"value":164,"cycle":26,"copy":"main"},{"phase":0.195,"value":150,"cycle":26,"copy":"main"},{"phase":0.5566,"value":151,"cycle":26,"copy":"main"},{"phase":0.5907,"value":127,"cycle":26,"copy":"main"},{"phase":0.616,"value":151,"cycle":26,"copy":"main"},{"phase":0.633,"value":140,"cycle":26,"copy":"main"},{"phase":0.988,"value":167.5,"cycle":26,"copy":"main"},
{"phase":-0.013,"value":167.5,"cycle":26,"copy":"wrap"},{"phase":1.129,"value":132,"cycle":26,"copy":"wrap"},{"phase":1.158,"value":141,"cycle":26,"copy":"wrap"},{"phase":1.172,"value":164,"cycle":26,"copy":"wrap"},{"phase":1.1965,"value":150,"cycle":26,"copy":"wrap"},
{"phase":0.237,"value":140,"cycle":27,"copy":"main"},{"phase":0.266,"value":144,"cycle":27,"copy":"main"},{"phase":0.2875,"value":153,"cycle":27,"copy":"main"},{"phase":0.3195,"value":253,"cycle":27,"copy":"main"},{"phase":0.403,"value":235,"cycle":27,"copy":"main"},{"phase":0.657,"value":141,"cycle":27,"copy":"main"},{"phase":0.678,"value":142,"cycle":27,"copy":"main"},{"phase":0.702,"value":151,"cycle":27,"copy":"main"},{"phase":0.787,"value":115,"cycle":27,"copy":"main"},
{"phase":0.205,"value":219,"cycle":28,"copy":"main"},{"phase":0.208,"value":136,"cycle":28,"copy":"main"},{"phase":0.246,"value":132,"cycle":28,"copy":"main"},{"phase":0.277,"value":226,"cycle":28,"copy":"main"},{"phase":0.356,"value":164,"cycle":28,"copy":"main"},{"phase":0.744,"value":146,"cycle":28,"copy":"main"},{"phase":0.775,"value":128,"cycle":28,"copy":"main"},{"phase":0.809,"value":141,"cycle":28,"copy":"main"},
{"phase":-0.192,"value":141,"cycle":28,"copy":"wrap"},
{"phase":0.129,"value":111,"cycle":29,"copy":"main"},{"phase":0.18,"value":131,"cycle":29,"copy":"main"},{"phase":0.222,"value":118,"cycle":29,"copy":"main"},{"phase":0.6143,"value":115,"cycle":29,"copy":"main"},{"phase":0.65,"value":139,"cycle":29,"copy":"main"},{"phase":0.685,"value":166,"cycle":29,"copy":"main"},{"phase":0.976,"value":125,"cycle":29,"copy":"main"},{"phase":0.997,"value":129,"cycle":29,"copy":"main"},
{"phase":-0.026,"value":125,"cycle":29,"copy":"wrap"},{"phase":-0.005,"value":129,"cycle":29,"copy":"wrap"},{"phase":1.1297,"value":113,"cycle":29,"copy":"wrap"},{"phase":1.18,"value":131,"cycle":29,"copy":"wrap"},
{"phase":0.0145,"value":125,"cycle":30,"copy":"main"},{"phase":0.024,"value":109,"cycle":30,"copy":"main"},{"phase":0.035,"value":123,"cycle":30,"copy":"main"},{"phase":0.061,"value":100,"cycle":30,"copy":"main"},{"phase":0.075,"value":108,"cycle":30,"copy":"main"},{"phase":0.107,"value":98,"cycle":30,"copy":"main"},{"phase":0.115,"value":111,"cycle":30,"copy":"main"},{"phase":0.142,"value":127,"cycle":30,"copy":"main"},{"phase":0.431,"value":154,"cycle":30,"copy":"main"},{"phase":0.451,"value":134,"cycle":30,"copy":"main"},{"phase":0.47,"value":149,"cycle":30,"copy":"main"},{"phase":0.511,"value":169,"cycle":30,"copy":"main"},{"phase":0.5496,"value":141,"cycle":30,"copy":"main"},{"phase":0.584,"value":131,"cycle":30,"copy":"main"},{"phase":0.891,"value":159,"cycle":30,"copy":"main"},{"phase":0.911,"value":136,"cycle":30,"copy":"main"},{"phase":0.913,"value":128,"cycle":30,"copy":"main"},{"phase":0.93,"value":143,"cycle":30,"copy":"main"},{"phase":0.951,"value":151,"cycle":30,"copy":"main"},{"phase":0.953,"value":156,"cycle":30,"copy":"main"},
{"phase":-0.111,"value":159,"cycle":30,"copy":"wrap"},{"phase":-0.09,"value":134,"cycle":30,"copy":"wrap"},{"phase":-0.088,"value":128,"cycle":30,"copy":"wrap"},{"phase":-0.069,"value":144,"cycle":30,"copy":"wrap"},{"phase":-0.05,"value":151,"cycle":30,"copy":"wrap"},{"phase":-0.047,"value":156,"cycle":30,"copy":"wrap"},{"phase":1.018,"value":123,"cycle":30,"copy":"wrap"},{"phase":1.0245,"value":109,"cycle":30,"copy":"wrap"},{"phase":1.037,"value":122,"cycle":30,"copy":"wrap"},{"phase":1.064,"value":100,"cycle":30,"copy":"wrap"},{"phase":1.077,"value":108,"cycle":30,"copy":"wrap"},{"phase":1.109,"value":97,"cycle":30,"copy":"wrap"},{"phase":1.116,"value":110,"cycle":30,"copy":"wrap"},{"phase":1.144,"value":126,"cycle":30,"copy":"wrap"}
],
"flux_bg":[
{"phase":-0.161,"value":-53.5},{"phase":-0.141,"value":-100},{"phase":-0.185,"value":-66.7},{"phase":-0.183,"value":-70.6},{"phase":-0.18,"value":-69.4},{"phase":-0.191,"value":-73.3},{"phase":-0.178,"value":-90.3},{"phase":-0.167,"value":-80},{"phase":-0.168,"value":-87.1},{"phase":-0.164,"value":-87.6},{"phase":-0.159,"value":-76.8},{"phase":-0.156,"value":-77.7},{"phase":-0.156,"value":-82.3},{"phase":-0.153,"value":-81.4},{"phase":-0.148,"value":-80},{"phase":-0.144,"value":-73.5},{"phase":-0.139,"value":-73.8},{"phase":-0.135,"value":-85.3},{"phase":-0.132,"value":-64.6},{"phase":-0.13,"value":-82.1},{"phase":-0.126,"value":-78.6},{"phase":-0.123,"value":-79.5},{"phase":-0.121,"value":-83.2},{"phase":-0.118,"value":-64.1},{"phase":-0.114,"value":-72},{"phase":-0.112,"value":-83.5},{"phase":-0.109,"value":-78.2},{"phase":-0.102,"value":-53.8},{"phase":-0.1,"value":-65.5},{"phase":-0.099,"value":-84.8},{"phase":-0.097,"value":-78.6},{"phase":-0.093,"value":-77.3},{"phase":-0.088,"value":-64.1},{"phase":-0.084,"value":-62.7},{"phase":-0.083,"value":-66.2},{"phase":-0.083,"value":-86.2},{"phase":-0.08,"value":-96},{"phase":-0.078,"value":-70.6},{"phase":-0.074,"value":-70.8},{"phase":-0.071,"value":-83.5},{"phase":-0.069,"value":-64.4},{"phase":-0.067,"value":-89.7},{"phase":-0.064,"value":-66.2},{"phase":-0.061,"value":-65},{"phase":-0.057,"value":-67.6},{"phase":-0.055,"value":-67.1},{"phase":-0.052,"value":-77.9},{"phase":-0.046,"value":-83.9},{"phase":-0.045,"value":-79.1},{"phase":-0.039,"value":-91.5},{"phase":-0.036,"value":-59.3},{"phase":-0.032,"value":-88.3},{"phase":-0.029,"value":-69},{"phase":-0.027,"value":-64.1},{"phase":-0.024,"value":-69.4},{"phase":-0.017,"value":-59.1},{"phase":-0.015,"value":-65.8},{"phase":-0.017,"value":-72},{"phase":-0.013,"value":-82.1},{"phase":-0.01,"value":-83.5},{"phase":0.0,"value":-71.2},{"phase":0.002,"value":-78.8},{"phase":0.004,"value":-80},{"phase":0.005,"value":-83.5},{"phase":0.011,"value":-67.6},{"phase":0.028,"value":-77.3},{"phase":0.032,"value":-82.7},{"phase":0.035,"value":-83.2},{"phase":0.048,"value":-66.7},{"phase":0.051,"value":-66.2},{"phase":0.053,"value":-69.7},{"phase":0.056,"value":-76.5},{"phase":0.065,"value":-74.2},{"phase":0.067,"value":-74.7},{"phase":0.07,"value":-85.7},{"phase":0.072,"value":-47.8},{"phase":0.086,"value":-88},{"phase":0.088,"value":-90.6},{"phase":0.093,"value":-72.6},{"phase":0.095,"value":-76.5},{"phase":0.1,"value":-64.4},{"phase":0.109,"value":-64.1},{"phase":0.121,"value":-44.9},{"phase":0.122,"value":-73.8},{"phase":0.132,"value":-61.4},{"phase":0.135,"value":-61.9},{"phase":0.136,"value":-68},{"phase":0.145,"value":-64.1},{"phase":0.152,"value":-65.5},{"phase":0.154,"value":-63.7},{"phase":0.157,"value":-71.2},{"phase":0.162,"value":-78.2},{"phase":0.166,"value":-45.5},{"phase":0.168,"value":-80.9},{"phase":0.17,"value":-81.8},{"phase":0.171,"value":-79.1},{"phase":0.177,"value":-81.4},{"phase":0.18,"value":-82.1},{"phase":0.185,"value":-88},{"phase":0.187,"value":-54.3},{"phase":0.191,"value":-59.6},{"phase":0.198,"value":-62.3},{"phase":0.199,"value":-72.6},{"phase":0.2,"value":-70.3},{"phase":0.205,"value":-77.3},{"phase":0.21,"value":-69.7},{"phase":0.226,"value":-61.4},{"phase":0.228,"value":-81.8},{"phase":0.233,"value":-74.7},{"phase":0.239,"value":-85},{"phase":0.249,"value":-63.7},{"phase":0.258,"value":-73.3},{"phase":0.262,"value":-74.7},{"phase":0.267,"value":-59.1},{"phase":0.279,"value":-60.9},{"phase":0.29,"value":-61.9},{"phase":0.297,"value":-78.2},{"phase":0.301,"value":-66.7},{"phase":0.305,"value":-62.3},{"phase":0.307,"value":-77.9},{"phase":0.314,"value":-80.4},{"phase":0.318,"value":-75.6},{"phase":0.321,"value":-88},{"phase":0.324,"value":-87.1},{"phase":0.324,"value":-65.5},{"phase":0.331,"value":-77.9},{"phase":0.335,"value":-76.5},{"phase":0.338,"value":-65.8},{"phase":0.345,"value":-65},{"phase":0.349,"value":-82.1},{"phase":0.365,"value":-61.4},{"phase":0.37,"value":-65},{"phase":0.373,"value":-65},{"phase":0.373,"value":-79.1},{"phase":0.377,"value":-69.9},{"phase":0.387,"value":-82.1},{"phase":0.389,"value":-66.7},{"phase":0.393,"value":-68.5},{"phase":0.394,"value":-75},{"phase":0.398,"value":-70.8},{"phase":0.414,"value":-65.5},{"phase":0.415,"value":-80.4},{"phase":0.418,"value":-85.8},{"phase":0.424,"value":-79.1},{"phase":0.429,"value":-68.5},{"phase":0.431,"value":-67.6},{"phase":0.443,"value":-68},{"phase":0.446,"value":-67.6},{"phase":0.448,"value":-79.6},{"phase":0.46,"value":-68.5},
{"phase":0.467,"value":-60.9},{"phase":0.469,"value":-62.3},{"phase":0.481,"value":-65.5},{"phase":0.488,"value":-64.1},{"phase":0.493,"value":-63.2},{"phase":0.506,"value":-66.7},{"phase":0.486,"value":-70.8},{"phase":0.492,"value":-74.3},{"phase":0.495,"value":-79.6},{"phase":0.483,"value":-89.7},{"phase":0.502,"value":-68.5},{"phase":0.516,"value":-69.4},{"phase":0.515,"value":-91},{"phase":0.525,"value":-83.9},{"phase":0.529,"value":-78.2},{"phase":0.532,"value":-68.5},{"phase":0.536,"value":-80.9},{"phase":0.543,"value":-88},{"phase":0.547,"value":-76.8},{"phase":0.554,"value":-77.3},{"phase":0.561,"value":-78.6},{"phase":0.566,"value":-77.9},{"phase":0.572,"value":-76.8},{"phase":0.57,"value":-84.4},{"phase":0.577,"value":-76.8},{"phase":0.58,"value":-77.7},{"phase":0.593,"value":-90.1},{"phase":0.601,"value":-91},{"phase":0.602,"value":-68.1},{"phase":0.61,"value":-74.7},{"phase":0.621,"value":-73.8},{"phase":0.63,"value":-87.4},{"phase":0.632,"value":-73.8},{"phase":0.637,"value":-89.2},{"phase":0.638,"value":-87.1},{"phase":0.648,"value":-69},{"phase":0.659,"value":-70.3},{"phase":0.661,"value":-78.6},{"phase":0.671,"value":-56.1},{"phase":0.682,"value":-56.1},{"phase":0.681,"value":-59.6},{"phase":0.688,"value":-60.5},{"phase":0.692,"value":-60},{"phase":0.673,"value":-75},{"phase":0.688,"value":-73.8},{"phase":0.69,"value":-75.6},{"phase":0.695,"value":-93.3},{"phase":0.702,"value":-77.3},{"phase":0.706,"value":-75},{"phase":0.711,"value":-76.1},{"phase":0.717,"value":-76.1},{"phase":0.727,"value":-68},{"phase":0.729,"value":-79.6},{"phase":0.732,"value":-77.7},{"phase":0.736,"value":-76.8},{"phase":0.737,"value":-91.5},{"phase":0.741,"value":-74.7},{"phase":0.746,"value":-77.7},{"phase":0.749,"value":-77.3},{"phase":0.753,"value":-74.3},{"phase":0.756,"value":-77.3},{"phase":0.754,"value":-70.8},{"phase":0.763,"value":-57.3},{"phase":0.767,"value":-49.6},{"phase":0.762,"value":-106.2},{"phase":0.769,"value":-78.2},{"phase":0.772,"value":-84.4},{"phase":0.775,"value":-92.8},{"phase":0.781,"value":-84.4},{"phase":0.786,"value":-84.4},{"phase":0.791,"value":-84.4},{"phase":0.79,"value":-93.8},{"phase":0.802,"value":-73.3},{"phase":0.811,"value":-73.3},{"phase":0.816,"value":-66.7},{"phase":0.823,"value":-70.8},{"phase":0.82,"value":-90.6},{"phase":0.832,"value":-80},{"phase":0.833,"value":-82.1},{"phase":0.84,"value":-53.5},{"phase":0.843,"value":-77.9},{"phase":0.846,"value":-76.8},{"phase":0.848,"value":-73.8},{"phase":0.85,"value":-81.8},{"phase":0.859,"value":-99.8},{"phase":0.861,"value":-82.7},{"phase":0.864,"value":-81.4},{"phase":0.866,"value":-85.3},{"phase":0.868,"value":-84.4},{"phase":0.871,"value":-65},{"phase":0.878,"value":-83.5},{"phase":0.882,"value":-64.4},{"phase":0.889,"value":-83.5},{"phase":0.892,"value":-77.9},{"phase":0.896,"value":-87.4},{"phase":0.901,"value":-54.3},{"phase":0.903,"value":-82.7},{"phase":0.906,"value":-85.3},{"phase":0.91,"value":-77.9},{"phase":0.915,"value":-64.4},{"phase":0.917,"value":-68},{"phase":0.92,"value":-70.3},{"phase":0.922,"value":-96.3},{"phase":0.924,"value":-81.4},{"phase":0.927,"value":-70.8},{"phase":0.93,"value":-78.2},{"phase":0.933,"value":-90.3},{"phase":0.936,"value":-65.5},{"phase":0.941,"value":-72},{"phase":0.944,"value":-65.5},{"phase":0.946,"value":-69.7},{"phase":0.95,"value":-67.3},{"phase":0.953,"value":-74.7},{"phase":0.958,"value":-76.1},{"phase":0.962,"value":-68.5},{"phase":0.964,"value":-87.4},{"phase":0.967,"value":-59.1},{"phase":0.974,"value":-63.7},{"phase":0.978,"value":-65.5},{"phase":0.986,"value":-59.1},{"phase":0.988,"value":-70.3},{"phase":0.99,"value":-77.9},{"phase":0.993,"value":-81.4},{"phase":0.997,"value":-76.1},{"phase":1.0,"value":-83.5},{"phase":1.004,"value":-83.5},{"phase":1.007,"value":-74.7},{"phase":1.013,"value":-67.6},{"phase":1.015,"value":-79.1},{"phase":1.02,"value":-76.5},{"phase":1.027,"value":-73.1},{"phase":1.028,"value":-77.7},{"phase":1.034,"value":-81.8},{"phase":1.037,"value":-74.7},{"phase":1.047,"value":-79.6},{"phase":1.049,"value":-66.7},{"phase":1.054,"value":-78.2},{"phase":1.058,"value":-66.7},{"phase":1.061,"value":-69.4},{"phase":1.063,"value":-73.8},{"phase":1.068,"value":-75},{"phase":1.07,"value":-47.8},{"phase":1.072,"value":-86.2},{"phase":1.073,"value":-74.7},{"phase":1.082,"value":-68.1},{"phase":1.085,"value":-87.4},{"phase":1.089,"value":-90.6},{"phase":1.091,"value":-73.3},{"phase":1.106,"value":-77.9},{"phase":1.105,"value":-65},{"phase":1.112,"value":-64.4},{"phase":1.113,"value":-82.1},{"phase":1.122,"value":-44.6},{"phase":1.123,"value":-76.8},{"phase":1.128,"value":-76.5},{"phase":1.136,"value":-61.4},{"phase":1.138,"value":-68.5},{"phase":1.139,"value":-62.3},{"phase":1.15,"value":-62.7},{"phase":1.155,"value":-65},{"phase":1.16,"value":-80.9},{"phase":1.164,"value":-82.1},{"phase":1.166,"value":-74.3},{"phase":1.171,"value":-80.9},{"phase":1.173,"value":-75.6},{"phase":1.174,"value":-76.5},{"phase":1.176,"value":-81.4},{"phase":1.18,"value":-81.4},{"phase":1.181,"value":-68.5},{"phase":1.183,"value":-45.5},{"phase":1.185,"value":-88},{"phase":1.187,"value":-66.7},{"phase":1.188,"value":-79.1},{"phase":1.19,"value":-60.5},{"phase":1.192,"value":-65.5},{"phase":1.195,"value":-79.6},{"phase":1.197,"value":-75.2}
],
"flux_cyc":[
{"phase":0.128,"value":-72.9,"cycle":26,"copy":"main"},{"phase":0.156,"value":-68.5,"cycle":26,"copy":"main"},{"phase":0.1705,"value":-61.4,"cycle":26,"copy":"main"},{"phase":0.194,"value":-66.7,"cycle":26,"copy":"main"},{"phase":0.5566,"value":-67.3,"cycle":26,"copy":"main"},{"phase":0.5907,"value":-76.1,"cycle":26,"copy":"main"},{"phase":0.616,"value":-74.3,"cycle":26,"copy":"main"},{"phase":0.633,"value":-83.2,"cycle":26,"copy":"main"},{"phase":0.988,"value":-71.5,"cycle":26,"copy":"main"},
{"phase":-0.013,"value":-71.7,"cycle":26,"copy":"wrap"},{"phase":1.129,"value":-72.6,"cycle":26,"copy":"wrap"},{"phase":1.158,"value":-68.9,"cycle":26,"copy":"wrap"},{"phase":1.172,"value":-61.8,"cycle":26,"copy":"wrap"},{"phase":1.1965,"value":-66.4,"cycle":26,"copy":"wrap"},
{"phase":0.236,"value":-76.8,"cycle":27,"copy":"main"},{"phase":0.267,"value":-72.4,"cycle":27,"copy":"main"},{"phase":0.2875,"value":-71.2,"cycle":27,"copy":"main"},{"phase":0.3195,"value":-43.7,"cycle":27,"copy":"main"},{"phase":0.403,"value":-44.2,"cycle":27,"copy":"main"},{"phase":0.657,"value":-82.1,"cycle":27,"copy":"main"},{"phase":0.678,"value":-87.6,"cycle":27,"copy":"main"},{"phase":0.702,"value":-87.4,"cycle":27,"copy":"main"},{"phase":0.787,"value":-88.3,"cycle":27,"copy":"main"},
{"phase":0.207,"value":-75,"cycle":28,"copy":"main"},{"phase":0.246,"value":-74.2,"cycle":28,"copy":"main"},{"phase":0.276,"value":-41.9,"cycle":28,"copy":"main"},{"phase":0.356,"value":-72.9,"cycle":28,"copy":"main"},{"phase":0.744,"value":-83.9,"cycle":28,"copy":"main"},{"phase":0.775,"value":-86.7,"cycle":28,"copy":"main"},{"phase":0.809,"value":-85.8,"cycle":28,"copy":"main"},
{"phase":-0.192,"value":-85.8,"cycle":28,"copy":"wrap"},
{"phase":0.129,"value":-74.3,"cycle":29,"copy":"main"},{"phase":0.178,"value":-73.3,"cycle":29,"copy":"main"},{"phase":0.221,"value":-73.8,"cycle":29,"copy":"main"},{"phase":0.6143,"value":-76.5,"cycle":29,"copy":"main"},{"phase":0.65,"value":-81.2,"cycle":29,"copy":"main"},{"phase":0.685,"value":-80.9,"cycle":29,"copy":"main"},{"phase":0.976,"value":-78.6,"cycle":29,"copy":"main"},{"phase":0.997,"value":-77.7,"cycle":29,"copy":"main"},
{"phase":-0.026,"value":-78.6,"cycle":29,"copy":"wrap"},{"phase":-0.005,"value":-77.7,"cycle":29,"copy":"wrap"},{"phase":1.1297,"value":-74.7,"cycle":29,"copy":"wrap"},{"phase":1.18,"value":-73.3,"cycle":29,"copy":"wrap"},
{"phase":0.0145,"value":-73.3,"cycle":30,"copy":"main"},{"phase":0.024,"value":-81.2,"cycle":30,"copy":"main"},{"phase":0.035,"value":-72.9,"cycle":30,"copy":"main"},{"phase":0.062,"value":-80.9,"cycle":30,"copy":"main"},{"phase":0.076,"value":-80.4,"cycle":30,"copy":"main"},{"phase":0.107,"value":-82.7,"cycle":30,"copy":"main"},{"phase":0.114,"value":-79.6,"cycle":30,"copy":"main"},{"phase":0.142,"value":-77,"cycle":30,"copy":"main"},{"phase":0.431,"value":-73.6,"cycle":30,"copy":"main"},{"phase":0.451,"value":-85.7,"cycle":30,"copy":"main"},{"phase":0.47,"value":-82.7,"cycle":30,"copy":"main"},{"phase":0.474,"value":-77.3,"cycle":30,"copy":"main"},{"phase":0.511,"value":-77.3,"cycle":30,"copy":"main"},{"phase":0.5496,"value":-74.7,"cycle":30,"copy":"main"},{"phase":0.584,"value":-63.5,"cycle":30,"copy":"main"},{"phase":0.891,"value":-69.7,"cycle":30,"copy":"main"},{"phase":0.911,"value":-79.5,"cycle":30,"copy":"main"},{"phase":0.912,"value":-81.1,"cycle":30,"copy":"main"},{"phase":0.93,"value":-75,"cycle":30,"copy":"main"},{"phase":0.951,"value":-70.3,"cycle":30,"copy":"main"},{"phase":0.951,"value":-74.3,"cycle":30,"copy":"main"},
{"phase":-0.111,"value":-69.9,"cycle":30,"copy":"wrap"},{"phase":-0.091,"value":-79.6,"cycle":30,"copy":"wrap"},{"phase":-0.089,"value":-80.9,"cycle":30,"copy":"wrap"},{"phase":-0.069,"value":-75,"cycle":30,"copy":"wrap"},{"phase":-0.05,"value":-74.3,"cycle":30,"copy":"wrap"},{"phase":-0.048,"value":-70.6,"cycle":30,"copy":"wrap"},{"phase":1.018,"value":-73.3,"cycle":30,"copy":"wrap"},{"phase":1.0245,"value":-81.1,"cycle":30,"copy":"wrap"},{"phase":1.037,"value":-73.3,"cycle":30,"copy":"wrap"},{"phase":1.064,"value":-80.4,"cycle":30,"copy":"wrap"},{"phase":1.077,"value":-80.4,"cycle":30,"copy":"wrap"},{"phase":1.109,"value":-82.1,"cycle":30,"copy":"wrap"},{"phase":1.116,"value":-79.5,"cycle":30,"copy":"wrap"},{"phase":1.144,"value":-76.8,"cycle":30,"copy":"wrap"}
],
"fwhm_bg":[
{"phase":-0.191,"value":2760},{"phase":-0.189,"value":2883},{"phase":-0.185,"value":2930},{"phase":-0.183,"value":2939},{"phase":-0.178,"value":2846},{"phase":-0.168,"value":2923},{"phase":-0.167,"value":2873},{"phase":-0.163,"value":2937},{"phase":-0.159,"value":2943},{"phase":-0.156,"value":2921},{"phase":-0.153,"value":2896},{"phase":-0.154,"value":2930},{"phase":-0.144,"value":2731},{"phase":-0.141,"value":3080},{"phase":-0.142,"value":2943},{"phase":-0.132,"value":2966},{"phase":-0.13,"value":2917},{"phase":-0.127,"value":2961},{"phase":-0.123,"value":2956},{"phase":-0.12,"value":2956},{"phase":-0.121,"value":2883},{"phase":-0.116,"value":2857},{"phase":-0.113,"value":2963},{"phase":-0.113,"value":2930},{"phase":-0.109,"value":2850},{"phase":-0.104,"value":2934},{"phase":-0.1,"value":2850},{"phase":-0.095,"value":2990},{"phase":-0.095,"value":2953},{"phase":-0.097,"value":2896},{"phase":-0.093,"value":2843},{"phase":-0.092,"value":2930},{"phase":-0.088,"value":2890},{"phase":-0.083,"value":2830},{"phase":-0.083,"value":2846},{"phase":-0.079,"value":2939},{"phase":-0.077,"value":2913},{"phase":-0.074,"value":2970},{"phase":-0.071,"value":2963},{"phase":-0.067,"value":2970},{"phase":-0.064,"value":2953},{"phase":-0.06,"value":2923},{"phase":-0.057,"value":2904},{"phase":-0.054,"value":2873},{"phase":-0.052,"value":2850},{"phase":-0.046,"value":2966},{"phase":-0.043,"value":2937},{"phase":-0.041,"value":2850},{"phase":-0.038,"value":2810},{"phase":-0.036,"value":2744},{"phase":-0.032,"value":2894},{"phase":-0.027,"value":2846},{"phase":-0.024,"value":2850},{"phase":-0.019,"value":3007},{"phase":-0.017,"value":2733},{"phase":-0.013,"value":2830},{"phase":-0.01,"value":2900},{"phase":-0.003,"value":2886},{"phase":0.004,"value":2923},{"phase":0.008,"value":2877},{"phase":0.011,"value":2806},{"phase":0.013,"value":2917},{"phase":0.032,"value":3006},{"phase":0.037,"value":2953},{"phase":0.046,"value":2996},{"phase":0.053,"value":2956},{"phase":0.056,"value":2943},{"phase":0.06,"value":2850},{"phase":0.067,"value":2863},{"phase":0.07,"value":2934},{"phase":0.07,"value":3034},{"phase":0.081,"value":2956},{"phase":0.084,"value":2934},{"phase":0.088,"value":3003},{"phase":0.098,"value":2947},{"phase":0.102,"value":2996},{"phase":0.105,"value":2919},{"phase":0.115,"value":3083},{"phase":0.118,"value":2970},{"phase":0.122,"value":3023},{"phase":0.122,"value":2992},{"phase":0.131,"value":2999},{"phase":0.136,"value":2930},{"phase":0.142,"value":3045},{"phase":0.143,"value":2974},{"phase":0.152,"value":2956},{"phase":0.156,"value":2939},{"phase":0.159,"value":3000},{"phase":0.163,"value":3019},{"phase":0.166,"value":2943},{"phase":0.171,"value":2923},{"phase":0.175,"value":3069},{"phase":0.177,"value":3056},{"phase":0.18,"value":2961},{"phase":0.182,"value":2939},{"phase":0.185,"value":3016},{"phase":0.189,"value":2970},{"phase":0.191,"value":2956},{"phase":0.196,"value":2934},{"phase":0.199,"value":2976},{"phase":0.205,"value":3000},{"phase":0.207,"value":2923},{"phase":0.213,"value":2939},{"phase":0.22,"value":2983},{"phase":0.226,"value":2996},{"phase":0.23,"value":2983},{"phase":0.234,"value":2966},{"phase":0.239,"value":2917},{"phase":0.248,"value":2850},{"phase":0.258,"value":2843},{"phase":0.261,"value":2983},{"phase":0.265,"value":2956},{"phase":0.269,"value":2996},{"phase":0.274,"value":2976},{"phase":0.281,"value":3010},{"phase":0.293,"value":3063},{"phase":0.295,"value":2963},{"phase":0.297,"value":2830},{"phase":0.304,"value":3032},{"phase":0.307,"value":2961},{"phase":0.314,"value":3023},{"phase":0.316,"value":2953},{"phase":0.32,"value":2880},{"phase":0.321,"value":2850},{"phase":0.324,"value":3003},{"phase":0.327,"value":2987},{"phase":0.331,"value":2990},{"phase":0.335,"value":2939},{"phase":0.34,"value":2943},{"phase":0.345,"value":2921},{"phase":0.351,"value":3043},{"phase":0.352,"value":2963},{"phase":0.359,"value":2947},{"phase":0.363,"value":2939},{"phase":0.366,"value":2820},{"phase":0.37,"value":3069},{"phase":0.373,"value":2794},{"phase":0.375,"value":3032},{"phase":0.379,"value":2939},{"phase":0.382,"value":2956},{"phase":0.386,"value":3056},{"phase":0.387,"value":2987},{"phase":0.389,"value":2930},{"phase":0.393,"value":3000},{"phase":0.396,"value":2846},{"phase":0.4,"value":2894},{"phase":0.403,"value":2890},{"phase":0.41,"value":2900},{"phase":0.418,"value":2846},{"phase":0.425,"value":2877},{"phase":0.429,"value":3023},{"phase":0.43,"value":3030},{"phase":0.436,"value":2966},{"phase":0.44,"value":2983},{"phase":0.443,"value":2921},{"phase":0.448,"value":2877},
{"phase":0.464,"value":3040},{"phase":0.47,"value":2644},{"phase":0.481,"value":3016},{"phase":0.488,"value":2992},{"phase":0.492,"value":2976},{"phase":0.495,"value":2961},{"phase":0.5,"value":2966},{"phase":0.488,"value":2900},{"phase":0.502,"value":2881},{"phase":0.515,"value":3034},{"phase":0.516,"value":2930},{"phase":0.523,"value":2990},{"phase":0.529,"value":2917},{"phase":0.535,"value":2777},{"phase":0.537,"value":3023},{"phase":0.544,"value":2966},{"phase":0.547,"value":2961},{"phase":0.56,"value":3003},{"phase":0.561,"value":2833},{"phase":0.568,"value":2904},{"phase":0.574,"value":2863},{"phase":0.579,"value":2913},{"phase":0.593,"value":3006},{"phase":0.598,"value":2961},{"phase":0.602,"value":2976},{"phase":0.605,"value":2953},{"phase":0.61,"value":2983},{"phase":0.621,"value":3000},{"phase":0.628,"value":3010},{"phase":0.632,"value":2953},{"phase":0.638,"value":2953},{"phase":0.659,"value":2923},{"phase":0.662,"value":2900},{"phase":0.671,"value":2846},{"phase":0.68,"value":2886},{"phase":0.683,"value":2843},{"phase":0.687,"value":2896},{"phase":0.692,"value":2926},{"phase":0.695,"value":3023},{"phase":0.706,"value":2810},{"phase":0.709,"value":3067},{"phase":0.715,"value":2990},{"phase":0.727,"value":2777},{"phase":0.734,"value":2930},{"phase":0.737,"value":2886},{"phase":0.749,"value":2953},{"phase":0.751,"value":2837},{"phase":0.753,"value":2900},{"phase":0.754,"value":2814},{"phase":0.762,"value":3045},{"phase":0.767,"value":2910},{"phase":0.772,"value":2953},{"phase":0.779,"value":2966},{"phase":0.783,"value":2926},{"phase":0.791,"value":2990},{"phase":0.797,"value":2913},{"phase":0.802,"value":2934},{"phase":0.811,"value":2757},{"phase":0.814,"value":2926},{"phase":0.818,"value":2937},{"phase":0.823,"value":2846},{"phase":0.827,"value":2923},{"phase":0.834,"value":2873},{"phase":0.837,"value":2934},{"phase":0.841,"value":2921},{"phase":0.843,"value":2934},{"phase":0.846,"value":2863},{"phase":0.848,"value":2923},{"phase":0.854,"value":2886},{"phase":0.859,"value":2731},{"phase":0.861,"value":3080},{"phase":0.864,"value":2953},{"phase":0.866,"value":2890},{"phase":0.87,"value":2966},{"phase":0.873,"value":2961},{"phase":0.876,"value":2956},{"phase":0.88,"value":2953},{"phase":0.882,"value":2917},{"phase":0.885,"value":2850},{"phase":0.89,"value":2854},{"phase":0.896,"value":2937},{"phase":0.899,"value":2963},{"phase":0.901,"value":2846},{"phase":0.908,"value":2963},{"phase":0.91,"value":2900},{"phase":0.913,"value":2867},{"phase":0.915,"value":2956},{"phase":0.918,"value":2943},{"phase":0.92,"value":2820},{"phase":0.922,"value":2846},{"phase":0.929,"value":2966},{"phase":0.932,"value":2966},{"phase":0.934,"value":2934},{"phase":0.937,"value":2886},{"phase":0.941,"value":2939},{"phase":0.946,"value":2883},{"phase":0.95,"value":2923},{"phase":0.962,"value":2987},{"phase":0.964,"value":2810},{"phase":0.967,"value":2744},{"phase":0.969,"value":2913},{"phase":0.974,"value":2846},{"phase":0.976,"value":2820},{"phase":0.979,"value":2846},{"phase":0.983,"value":3003},{"phase":0.984,"value":2820},{"phase":0.986,"value":2733},{"phase":0.99,"value":2939},{"phase":1.0,"value":2900},{"phase":1.004,"value":2894},{"phase":1.007,"value":2894},{"phase":1.013,"value":2806},{"phase":1.02,"value":2917},{"phase":1.028,"value":2913},{"phase":1.034,"value":3006},{"phase":1.036,"value":2953},{"phase":1.042,"value":2900},{"phase":1.047,"value":2996},{"phase":1.049,"value":2904},{"phase":1.054,"value":2850},{"phase":1.059,"value":2921},{"phase":1.061,"value":2860},{"phase":1.063,"value":2990},{"phase":1.066,"value":2886},{"phase":1.072,"value":3032},{"phase":1.073,"value":2939},{"phase":1.075,"value":2904},{"phase":1.082,"value":2943},{"phase":1.085,"value":2923},{"phase":1.089,"value":3006},{"phase":1.089,"value":2947},{"phase":1.101,"value":2917},{"phase":1.105,"value":2996},{"phase":1.106,"value":2886},{"phase":1.112,"value":2926},{"phase":1.119,"value":3083},{"phase":1.122,"value":2983},{"phase":1.124,"value":3027},{"phase":1.125,"value":2923},{"phase":1.129,"value":2910},{"phase":1.138,"value":2996},{"phase":1.139,"value":2917},{"phase":1.145,"value":3045},{"phase":1.145,"value":2883},{"phase":1.15,"value":2970},{"phase":1.157,"value":2934},{"phase":1.16,"value":2917},{"phase":1.164,"value":3040},{"phase":1.168,"value":3027},{"phase":1.171,"value":2923},{"phase":1.173,"value":2966},{"phase":1.178,"value":3063},{"phase":1.18,"value":3076},{"phase":1.181,"value":2953},{"phase":1.185,"value":2961},{"phase":1.187,"value":2937},{"phase":1.19,"value":2979},{"phase":1.192,"value":2930},{"phase":1.194,"value":2917}
],
"fwhm_cyc":[
{"phase":0.128,"value":2956,"cycle":26,"copy":"main"},{"phase":0.156,"value":2976,"cycle":26,"copy":"main"},{"phase":0.171,"value":2980,"cycle":26,"copy":"main"},{"phase":0.195,"value":2999,"cycle":26,"copy":"main"},{"phase":0.5566,"value":2926,"cycle":26,"copy":"main"},{"phase":0.5907,"value":2923,"cycle":26,"copy":"main"},{"phase":0.616,"value":2917,"cycle":26,"copy":"main"},{"phase":0.6345,"value":2919,"cycle":26,"copy":"main"},{"phase":0.988,"value":2923,"cycle":26,"copy":"main"},
{"phase":-0.013,"value":2923,"cycle":26,"copy":"wrap"},{"phase":1.129,"value":2956,"cycle":26,"copy":"wrap"},{"phase":1.158,"value":2976,"cycle":26,"copy":"wrap"},{"phase":1.172,"value":2983,"cycle":26,"copy":"wrap"},{"phase":1.1965,"value":2999,"cycle":26,"copy":"wrap"},
{"phase":0.236,"value":2996,"cycle":27,"copy":"main"},{"phase":0.265,"value":3034,"cycle":27,"copy":"main"},{"phase":0.2875,"value":3040,"cycle":27,"copy":"main"},{"phase":0.3195,"value":2943,"cycle":27,"copy":"main"},{"phase":0.403,"value":2930,"cycle":27,"copy":"main"},{"phase":0.657,"value":2983,"cycle":27,"copy":"main"},{"phase":0.678,"value":2950,"cycle":27,"copy":"main"},{"phase":0.702,"value":2926,"cycle":27,"copy":"main"},{"phase":0.787,"value":2923,"cycle":27,"copy":"main"},
{"phase":0.207,"value":2976,"cycle":28,"copy":"main"},{"phase":0.246,"value":3032,"cycle":28,"copy":"main"},{"phase":0.277,"value":3040,"cycle":28,"copy":"main"},{"phase":0.356,"value":2966,"cycle":28,"copy":"main"},{"phase":0.744,"value":2890,"cycle":28,"copy":"main"},{"phase":0.775,"value":2921,"cycle":28,"copy":"main"},{"phase":0.809,"value":2962,"cycle":28,"copy":"main"},
{"phase":-0.192,"value":2963,"cycle":28,"copy":"wrap"},{"phase":1.206,"value":2976,"cycle":28,"copy":"wrap"},
{"phase":0.129,"value":2894,"cycle":29,"copy":"main"},{"phase":0.18,"value":2917,"cycle":29,"copy":"main"},{"phase":0.222,"value":3020,"cycle":29,"copy":"main"},{"phase":0.6143,"value":2917,"cycle":29,"copy":"main"},{"phase":0.65,"value":2883,"cycle":29,"copy":"main"},{"phase":0.685,"value":2867,"cycle":29,"copy":"main"},{"phase":0.976,"value":2890,"cycle":29,"copy":"main"},{"phase":0.997,"value":2863,"cycle":29,"copy":"main"},
{"phase":-0.026,"value":2890,"cycle":29,"copy":"wrap"},{"phase":-0.005,"value":2863,"cycle":29,"copy":"wrap"},{"phase":1.1297,"value":2894,"cycle":29,"copy":"wrap"},{"phase":1.18,"value":2917,"cycle":29,"copy":"wrap"},
{"phase":0.0145,"value":2890,"cycle":30,"copy":"main"},{"phase":0.024,"value":2854,"cycle":30,"copy":"main"},{"phase":0.035,"value":2894,"cycle":30,"copy":"main"},{"phase":0.063,"value":2890,"cycle":30,"copy":"main"},{"phase":0.075,"value":2919,"cycle":30,"copy":"main"},{"phase":0.107,"value":2927,"cycle":30,"copy":"main"},{"phase":0.114,"value":2913,"cycle":30,"copy":"main"},{"phase":0.142,"value":2939,"cycle":30,"copy":"main"},{"phase":0.431,"value":2943,"cycle":30,"copy":"main"},{"phase":0.451,"value":2943,"cycle":30,"copy":"main"},{"phase":0.47,"value":2923,"cycle":30,"copy":"main"},{"phase":0.513,"value":2900,"cycle":30,"copy":"main"},{"phase":0.5496,"value":2890,"cycle":30,"copy":"main"},{"phase":0.584,"value":2890,"cycle":30,"copy":"main"},{"phase":0.891,"value":2990,"cycle":30,"copy":"main"},{"phase":0.911,"value":2937,"cycle":30,"copy":"main"},{"phase":0.912,"value":2900,"cycle":30,"copy":"main"},{"phase":0.93,"value":2923,"cycle":30,"copy":"main"},{"phase":0.951,"value":2866,"cycle":30,"copy":"main"},{"phase":0.953,"value":2917,"cycle":30,"copy":"main"},
{"phase":-0.111,"value":2990,"cycle":30,"copy":"wrap"},{"phase":-0.091,"value":2937,"cycle":30,"copy":"wrap"},{"phase":-0.089,"value":2900,"cycle":30,"copy":"wrap"},{"phase":-0.069,"value":2923,"cycle":30,"copy":"wrap"},{"phase":-0.05,"value":2866,"cycle":30,"copy":"wrap"},{"phase":-0.047,"value":2919,"cycle":30,"copy":"wrap"},{"phase":1.018,"value":2886,"cycle":30,"copy":"wrap"},{"phase":1.0245,"value":2854,"cycle":30,"copy":"wrap"},{"phase":1.037,"value":2894,"cycle":30,"copy":"wrap"},{"phase":1.064,"value":2890,"cycle":30,"copy":"wrap"},{"phase":1.077,"value":2919,"cycle":30,"copy":"wrap"},{"phase":1.109,"value":2933,"cycle":30,"copy":"wrap"},{"phase":1.116,"value":2914,"cycle":30,"copy":"wrap"},{"phase":1.144,"value":2939,"cycle":30,"copy":"wrap"}
]
},
"vconcat":[
{"width":670,"height":152,"resolve":{"axis":{"x":"independent","y":"independent"}},
"layer":[
{"data":{"name":"skew_bg"},"mark":{"type":"circle","size":9,"color":"black","opacity":1,"clip":true},
"encoding":{"x":{"field":"phase","type":"quantitative","scale":{"domain":[-0.2,1.2],"nice":false,"zero":false},"axis":{"orient":"bottom","values":[-0.2,-0.15,-0.1,-0.05,0,0.05,0.1,0.15,0.2,0.25,0.3,0.35,0.4,0.45,0.5,0.55,0.6,0.65,0.7,0.75,0.8,0.85,0.9,0.95,1,1.05,1.1,1.15,1.2],"tickSize":-5,"labels":false,"title":null}},
"y":{"field":"value","type":"quantitative","scale":{"domain":[-0.2615,-0.1158],"nice":false,"zero":false},"axis":{"orient":"left","values":[-0.26,-0.255,-0.25,-0.245,-0.24,-0.235,-0.23,-0.225,-0.22,-0.215,-0.21,-0.205,-0.2,-0.195,-0.19,-0.185,-0.18,-0.175,-0.17,-0.165,-0.16,-0.155,-0.15,-0.145,-0.14,-0.135,-0.13,-0.125,-0.12],"tickSize":-6,"labels":false,"title":null}}}},
{"data":{"name":"legend"},"mark":{"type":"text","align":"left","baseline":"middle","font":"Liberation Sans","fontSize":9.5},
"encoding":{"x":{"field":"phase","type":"quantitative","scale":{"domain":[-0.2,1.2],"nice":false,"zero":false},"axis":{"orient":"top","values":[-0.2,-0.15,-0.1,-0.05,0,0.05,0.1,0.15,0.2,0.25,0.3,0.35,0.4,0.45,0.5,0.55,0.6,0.65,0.7,0.75,0.8,0.85,0.9,0.95,1,1.05,1.1,1.15,1.2],"tickSize":-5,"labels":false,"title":null}},
"y":{"field":"skew","type":"quantitative","scale":{"domain":[-0.2615,-0.1158],"nice":false,"zero":false},"axis":{"orient":"right","values":[-0.26,-0.255,-0.25,-0.245,-0.24,-0.235,-0.23,-0.225,-0.22,-0.215,-0.21,-0.205,-0.2,-0.195,-0.19,-0.185,-0.18,-0.175,-0.17,-0.165,-0.16,-0.155,-0.15,-0.145,-0.14,-0.135,-0.13,-0.125,-0.12],"tickSize":-6,"labels":false,"title":null}},
"text":{"field":"label"},
"color":{"field":"cycle","type":"nominal","scale":{"domain":[26,27,28,29,30],"range":["#ff0000","#00ff00","#0000ff","#ffff00","#606060"]},"legend":null}}},
{"data":{"name":"skew_cyc"},"transform":[{"filter":"datum.copy === 'wrap'"}],"mark":{"type":"circle","size":26,"opacity":1,"clip":true},
"encoding":{"x":{"field":"phase","type":"quantitative","scale":{"domain":[-0.2,1.2],"nice":false,"zero":false},"axis":{"orient":"top","values":[-0.2,0,0.2,0.4,0.6,0.8,1,1.2],"tickSize":-10,"labels":false,"title":null}},
"y":{"field":"value","type":"quantitative","scale":{"domain":[-0.2615,-0.1158],"nice":false,"zero":false},"axis":{"orient":"right","values":[-0.26,-0.24,-0.22,-0.2,-0.18,-0.16,-0.14,-0.12],"tickSize":-14,"labels":false,"title":null}},
"color":{"field":"cycle","type":"nominal","scale":{"domain":[26,27,28,29,30],"range":["#ff0000","#00ff00","#0000ff","#ffff00","#606060"]},"legend":null}}},
{"data":{"name":"skew_cyc"},"transform":[{"filter":"datum.copy === 'main'"}],"mark":{"type":"circle","size":80,"opacity":1,"clip":true},
"encoding":{"x":{"field":"phase","type":"quantitative","scale":{"domain":[-0.2,1.2],"nice":false,"zero":false},"axis":{"orient":"bottom","values":[-0.2,0,0.2,0.4,0.6,0.8,1,1.2],"tickSize":-10,"labels":false,"title":null}},
"y":{"field":"value","type":"quantitative","scale":{"domain":[-0.2615,-0.1158],"nice":false,"zero":false},"axis":{"orient":"left","values":[-0.24,-0.2,-0.16,-0.12],"tickSize":-14,"labelPadding":18,"labelExpr":"datum.value < 0 ? '-' + format(-datum.value, '.2f') : format(datum.value, '.2f')","title":"SKEWNESS","titlePadding":7}},
"color":{"field":"cycle","type":"nominal","scale":{"domain":[26,27,28,29,30],"range":["#ff0000","#00ff00","#0000ff","#ffff00","#606060"]},"legend":null}}}
]},
{"width":670,"height":152,"resolve":{"axis":{"x":"independent","y":"independent"}},
"layer":[
{"data":{"name":"kurt_bg"},"mark":{"type":"circle","size":9,"color":"black","opacity":1,"clip":true},
"encoding":{"x":{"field":"phase","type":"quantitative","scale":{"domain":[-0.2,1.2],"nice":false,"zero":false},"axis":{"orient":"bottom","values":[-0.2,-0.15,-0.1,-0.05,0,0.05,0.1,0.15,0.2,0.25,0.3,0.35,0.4,0.45,0.5,0.55,0.6,0.65,0.7,0.75,0.8,0.85,0.9,0.95,1,1.05,1.1,1.15,1.2],"tickSize":-5,"labels":false,"title":null}},
"y":{"field":"value","type":"quantitative","scale":{"domain":[2.2,2.28],"nice":false,"zero":false},"axis":{"orient":"left","values":[2.2,2.205,2.21,2.215,2.22,2.225,2.23,2.235,2.24,2.245,2.25,2.255,2.26,2.265,2.27,2.275,2.28],"tickSize":-6,"labels":false,"title":null}}}},
{"data":{"name":"legend"},"mark":{"type":"text","align":"left","baseline":"middle","font":"Liberation Sans","fontSize":9.5},
"encoding":{"x":{"field":"phase","type":"quantitative","scale":{"domain":[-0.2,1.2],"nice":false,"zero":false},"axis":{"orient":"top","values":[-0.2,-0.15,-0.1,-0.05,0,0.05,0.1,0.15,0.2,0.25,0.3,0.35,0.4,0.45,0.5,0.55,0.6,0.65,0.7,0.75,0.8,0.85,0.9,0.95,1,1.05,1.1,1.15,1.2],"tickSize":-5,"labels":false,"title":null}},
"y":{"field":"kurt","type":"quantitative","scale":{"domain":[2.2,2.28],"nice":false,"zero":false},"axis":{"orient":"right","values":[2.2,2.205,2.21,2.215,2.22,2.225,2.23,2.235,2.24,2.245,2.25,2.255,2.26,2.265,2.27,2.275,2.28],"tickSize":-6,"labels":false,"title":null}},
"text":{"field":"label"},
"color":{"field":"cycle","type":"nominal","scale":{"domain":[26,27,28,29,30],"range":["#ff0000","#00ff00","#0000ff","#ffff00","#606060"]},"legend":null}}},
{"data":{"name":"kurt_cyc"},"transform":[{"filter":"datum.copy === 'wrap'"}],"mark":{"type":"circle","size":26,"opacity":1,"clip":true},
"encoding":{"x":{"field":"phase","type":"quantitative","scale":{"domain":[-0.2,1.2],"nice":false,"zero":false},"axis":{"orient":"top","values":[-0.2,0,0.2,0.4,0.6,0.8,1,1.2],"tickSize":-10,"labels":false,"title":null}},
"y":{"field":"value","type":"quantitative","scale":{"domain":[2.2,2.28],"nice":false,"zero":false},"axis":{"orient":"right","values":[2.22,2.24,2.26],"tickSize":-14,"labels":false,"title":null}},
"color":{"field":"cycle","type":"nominal","scale":{"domain":[26,27,28,29,30],"range":["#ff0000","#00ff00","#0000ff","#ffff00","#606060"]},"legend":null}}},
{"data":{"name":"kurt_cyc"},"transform":[{"filter":"datum.copy === 'main'"}],"mark":{"type":"circle","size":80,"opacity":1,"clip":true},
"encoding":{"x":{"field":"phase","type":"quantitative","scale":{"domain":[-0.2,1.2],"nice":false,"zero":false},"axis":{"orient":"bottom","values":[-0.2,0,0.2,0.4,0.6,0.8,1,1.2],"tickSize":-10,"labels":false,"title":null}},
"y":{"field":"value","type":"quantitative","scale":{"domain":[2.2,2.28],"nice":false,"zero":false},"axis":{"orient":"left","values":[2.22,2.24,2.26],"tickSize":-14,"labelPadding":18,"labelExpr":"format(datum.value, '.2f')","title":"KURTOSIS","titlePadding":7}},
"color":{"field":"cycle","type":"nominal","scale":{"domain":[26,27,28,29,30],"range":["#ff0000","#00ff00","#0000ff","#ffff00","#606060"]},"legend":null}}}
]},
{"width":670,"height":152,"resolve":{"axis":{"x":"independent","y":"independent"}},
"layer":[
{"data":{"name":"bis_bg"},"mark":{"type":"circle","size":9,"color":"black","opacity":1,"clip":true},
"encoding":{"x":{"field":"phase","type":"quantitative","scale":{"domain":[-0.2,1.2],"nice":false,"zero":false},"axis":{"orient":"bottom","values":[-0.2,-0.15,-0.1,-0.05,0,0.05,0.1,0.15,0.2,0.25,0.3,0.35,0.4,0.45,0.5,0.55,0.6,0.65,0.7,0.75,0.8,0.85,0.9,0.95,1,1.05,1.1,1.15,1.2],"tickSize":-5,"labels":false,"title":null}},
"y":{"field":"value","type":"quantitative","scale":{"domain":[0,300],"nice":false,"zero":false},"axis":{"orient":"left","values":[0,10,20,30,40,50,60,70,80,90,100,110,120,130,140,150,160,170,180,190,200,210,220,230,240,250,260,270,280,290,300],"tickSize":-6,"labels":false,"title":null}}}},
{"data":{"name":"legend"},"mark":{"type":"text","align":"left","baseline":"middle","font":"Liberation Sans","fontSize":9.5},
"encoding":{"x":{"field":"phase","type":"quantitative","scale":{"domain":[-0.2,1.2],"nice":false,"zero":false},"axis":{"orient":"top","values":[-0.2,-0.15,-0.1,-0.05,0,0.05,0.1,0.15,0.2,0.25,0.3,0.35,0.4,0.45,0.5,0.55,0.6,0.65,0.7,0.75,0.8,0.85,0.9,0.95,1,1.05,1.1,1.15,1.2],"tickSize":-5,"labels":false,"title":null}},
"y":{"field":"bis","type":"quantitative","scale":{"domain":[0,300],"nice":false,"zero":false},"axis":{"orient":"right","values":[0,10,20,30,40,50,60,70,80,90,100,110,120,130,140,150,160,170,180,190,200,210,220,230,240,250,260,270,280,290,300],"tickSize":-6,"labels":false,"title":null}},
"text":{"field":"label"},
"color":{"field":"cycle","type":"nominal","scale":{"domain":[26,27,28,29,30],"range":["#ff0000","#00ff00","#0000ff","#ffff00","#606060"]},"legend":null}}},
{"data":{"name":"bis_cyc"},"transform":[{"filter":"datum.copy === 'wrap'"}],"mark":{"type":"circle","size":26,"opacity":1,"clip":true},
"encoding":{"x":{"field":"phase","type":"quantitative","scale":{"domain":[-0.2,1.2],"nice":false,"zero":false},"axis":{"orient":"top","values":[-0.2,0,0.2,0.4,0.6,0.8,1,1.2],"tickSize":-10,"labels":false,"title":null}},
"y":{"field":"value","type":"quantitative","scale":{"domain":[0,300],"nice":false,"zero":false},"axis":{"orient":"right","values":[50,150,250],"tickSize":-14,"labels":false,"title":null}},
"color":{"field":"cycle","type":"nominal","scale":{"domain":[26,27,28,29,30],"range":["#ff0000","#00ff00","#0000ff","#ffff00","#606060"]},"legend":null}}},
{"data":{"name":"bis_cyc"},"transform":[{"filter":"datum.copy === 'main'"}],"mark":{"type":"circle","size":80,"opacity":1,"clip":true},
"encoding":{"x":{"field":"phase","type":"quantitative","scale":{"domain":[-0.2,1.2],"nice":false,"zero":false},"axis":{"orient":"bottom","values":[-0.2,0,0.2,0.4,0.6,0.8,1,1.2],"tickSize":-10,"labels":false,"title":null}},
"y":{"field":"value","type":"quantitative","scale":{"domain":[0,300],"nice":false,"zero":false},"axis":{"orient":"left","values":[50,150,250],"tickSize":-14,"labelPadding":18,"labelExpr":"format(datum.value, 'd')","title":"BISECTOR","titlePadding":7}},
"color":{"field":"cycle","type":"nominal","scale":{"domain":[26,27,28,29,30],"range":["#ff0000","#00ff00","#0000ff","#ffff00","#606060"]},"legend":null}}}
]},
{"width":670,"height":152,"resolve":{"axis":{"x":"independent","y":"independent"}},
"layer":[
{"data":{"name":"flux_bg"},"mark":{"type":"circle","size":9,"color":"black","opacity":1,"clip":true},
"encoding":{"x":{"field":"phase","type":"quantitative","scale":{"domain":[-0.2,1.2],"nice":false,"zero":false},"axis":{"orient":"bottom","values":[-0.2,-0.15,-0.1,-0.05,0,0.05,0.1,0.15,0.2,0.25,0.3,0.35,0.4,0.45,0.5,0.55,0.6,0.65,0.7,0.75,0.8,0.85,0.9,0.95,1,1.05,1.1,1.15,1.2],"tickSize":-5,"labels":false,"title":null}},
"y":{"field":"value","type":"quantitative","scale":{"domain":[-120,-40],"nice":false,"zero":false},"axis":{"orient":"left","values":[-120,-115,-110,-105,-100,-95,-90,-85,-80,-75,-70,-65,-60,-55,-50,-45,-40],"tickSize":-6,"labels":false,"title":null}}}},
{"data":{"name":"legend"},"mark":{"type":"text","align":"left","baseline":"middle","font":"Liberation Sans","fontSize":9.5},
"encoding":{"x":{"field":"phase","type":"quantitative","scale":{"domain":[-0.2,1.2],"nice":false,"zero":false},"axis":{"orient":"top","values":[-0.2,-0.15,-0.1,-0.05,0,0.05,0.1,0.15,0.2,0.25,0.3,0.35,0.4,0.45,0.5,0.55,0.6,0.65,0.7,0.75,0.8,0.85,0.9,0.95,1,1.05,1.1,1.15,1.2],"tickSize":-5,"labels":false,"title":null}},
"y":{"field":"flux","type":"quantitative","scale":{"domain":[-120,-40],"nice":false,"zero":false},"axis":{"orient":"right","values":[-120,-115,-110,-105,-100,-95,-90,-85,-80,-75,-70,-65,-60,-55,-50,-45,-40],"tickSize":-6,"labels":false,"title":null}},
"text":{"field":"label"},
"color":{"field":"cycle","type":"nominal","scale":{"domain":[26,27,28,29,30],"range":["#ff0000","#00ff00","#0000ff","#ffff00","#606060"]},"legend":null}}},
{"data":{"name":"flux_cyc"},"transform":[{"filter":"datum.copy === 'wrap'"}],"mark":{"type":"circle","size":26,"opacity":1,"clip":true},
"encoding":{"x":{"field":"phase","type":"quantitative","scale":{"domain":[-0.2,1.2],"nice":false,"zero":false},"axis":{"orient":"top","values":[-0.2,0,0.2,0.4,0.6,0.8,1,1.2],"tickSize":-10,"labels":false,"title":null}},
"y":{"field":"value","type":"quantitative","scale":{"domain":[-120,-40],"nice":false,"zero":false},"axis":{"orient":"right","values":[-100,-80,-60],"tickSize":-14,"labels":false,"title":null}},
"color":{"field":"cycle","type":"nominal","scale":{"domain":[26,27,28,29,30],"range":["#ff0000","#00ff00","#0000ff","#ffff00","#606060"]},"legend":null}}},
{"data":{"name":"flux_cyc"},"transform":[{"filter":"datum.copy === 'main'"}],"mark":{"type":"circle","size":80,"opacity":1,"clip":true},
"encoding":{"x":{"field":"phase","type":"quantitative","scale":{"domain":[-0.2,1.2],"nice":false,"zero":false},"axis":{"orient":"bottom","values":[-0.2,0,0.2,0.4,0.6,0.8,1,1.2],"tickSize":-10,"labels":false,"title":null}},
"y":{"field":"value","type":"quantitative","scale":{"domain":[-120,-40],"nice":false,"zero":false},"axis":{"orient":"left","values":[-100,-80,-60],"tickSize":-14,"labelPadding":18,"labelExpr":"'-' + format(-datum.value, 'd')","title":"FLUX VEL","titlePadding":7}},
"color":{"field":"cycle","type":"nominal","scale":{"domain":[26,27,28,29,30],"range":["#ff0000","#00ff00","#0000ff","#ffff00","#606060"]},"legend":null}}}
]},
{"width":670,"height":152,"resolve":{"axis":{"x":"independent","y":"independent"}},
"layer":[
{"data":{"name":"fwhm_bg"},"mark":{"type":"circle","size":9,"color":"black","opacity":1,"clip":true},
"encoding":{"x":{"field":"phase","type":"quantitative","scale":{"domain":[-0.2,1.2],"nice":false,"zero":false},"axis":{"orient":"bottom","values":[-0.2,-0.15,-0.1,-0.05,0,0.05,0.1,0.15,0.2,0.25,0.3,0.35,0.4,0.45,0.5,0.55,0.6,0.65,0.7,0.75,0.8,0.85,0.9,0.95,1,1.05,1.1,1.15,1.2],"tickSize":-5,"labels":false,"title":null}},
"y":{"field":"value","type":"quantitative","scale":{"domain":[2600,3200],"nice":false,"zero":false},"axis":{"orient":"left","values":[2600,2610,2620,2630,2640,2650,2660,2670,2680,2690,2700,2710,2720,2730,2740,2750,2760,2770,2780,2790,2800,2810,2820,2830,2840,2850,2860,2870,2880,2890,2900,2910,2920,2930,2940,2950,2960,2970,2980,2990,3000,3010,3020,3030,3040,3050,3060,3070,3080,3090,3100,3110,3120,3130,3140,3150,3160,3170,3180,3190,3200],"tickSize":-6,"labels":false,"title":null}}}},
{"data":{"name":"legend"},"mark":{"type":"text","align":"left","baseline":"middle","font":"Liberation Sans","fontSize":9.5},
"encoding":{"x":{"field":"phase","type":"quantitative","scale":{"domain":[-0.2,1.2],"nice":false,"zero":false},"axis":{"orient":"top","values":[-0.2,-0.15,-0.1,-0.05,0,0.05,0.1,0.15,0.2,0.25,0.3,0.35,0.4,0.45,0.5,0.55,0.6,0.65,0.7,0.75,0.8,0.85,0.9,0.95,1,1.05,1.1,1.15,1.2],"tickSize":-5,"labels":false,"title":null}},
"y":{"field":"fwhm","type":"quantitative","scale":{"domain":[2600,3200],"nice":false,"zero":false},"axis":{"orient":"right","values":[2600,2610,2620,2630,2640,2650,2660,2670,2680,2690,2700,2710,2720,2730,2740,2750,2760,2770,2780,2790,2800,2810,2820,2830,2840,2850,2860,2870,2880,2890,2900,2910,2920,2930,2940,2950,2960,2970,2980,2990,3000,3010,3020,3030,3040,3050,3060,3070,3080,3090,3100,3110,3120,3130,3140,3150,3160,3170,3180,3190,3200],"tickSize":-6,"labels":false,"title":null}},
"text":{"field":"label"},
"color":{"field":"cycle","type":"nominal","scale":{"domain":[26,27,28,29,30],"range":["#ff0000","#00ff00","#0000ff","#ffff00","#606060"]},"legend":null}}},
{"data":{"name":"fwhm_cyc"},"transform":[{"filter":"datum.copy === 'wrap'"}],"mark":{"type":"circle","size":26,"opacity":1,"clip":true},
"encoding":{"x":{"field":"phase","type":"quantitative","scale":{"domain":[-0.2,1.2],"nice":false,"zero":false},"axis":{"orient":"top","values":[-0.2,0,0.2,0.4,0.6,0.8,1,1.2],"tickSize":-10,"labels":false,"title":null}},
"y":{"field":"value","type":"quantitative","scale":{"domain":[2600,3200],"nice":false,"zero":false},"axis":{"orient":"right","values":[2700,2900,3100],"tickSize":-14,"labels":false,"title":null}},
"color":{"field":"cycle","type":"nominal","scale":{"domain":[26,27,28,29,30],"range":["#ff0000","#00ff00","#0000ff","#ffff00","#606060"]},"legend":null}}},
{"data":{"name":"fwhm_cyc"},"transform":[{"filter":"datum.copy === 'main'"}],"mark":{"type":"circle","size":80,"opacity":1,"clip":true},
"encoding":{"x":{"field":"phase","type":"quantitative","scale":{"domain":[-0.2,1.2],"nice":false,"zero":false},"axis":{"orient":"bottom","values":[-0.2,0,0.2,0.4,0.6,0.8,1,1.2],"tickSize":-10,"labelPadding":19,"labelExpr":"datum.value < 0 ? '-' + format(-datum.value, '.1f') : format(datum.value, '.1f')","title":"PHASE","titlePadding":0}},
"y":{"field":"value","type":"quantitative","scale":{"domain":[2600,3200],"nice":false,"zero":false},"axis":{"orient":"left","values":[2700,2900,3100],"tickSize":-14,"labelPadding":18,"labelExpr":"format(datum.value, 'd')","title":"FWHM","titlePadding":7}},
"color":{"field":"cycle","type":"nominal","scale":{"domain":[26,27,28,29,30],"range":["#ff0000","#00ff00","#0000ff","#ffff00","#606060"]},"legend":null}}}
]}
]
}
